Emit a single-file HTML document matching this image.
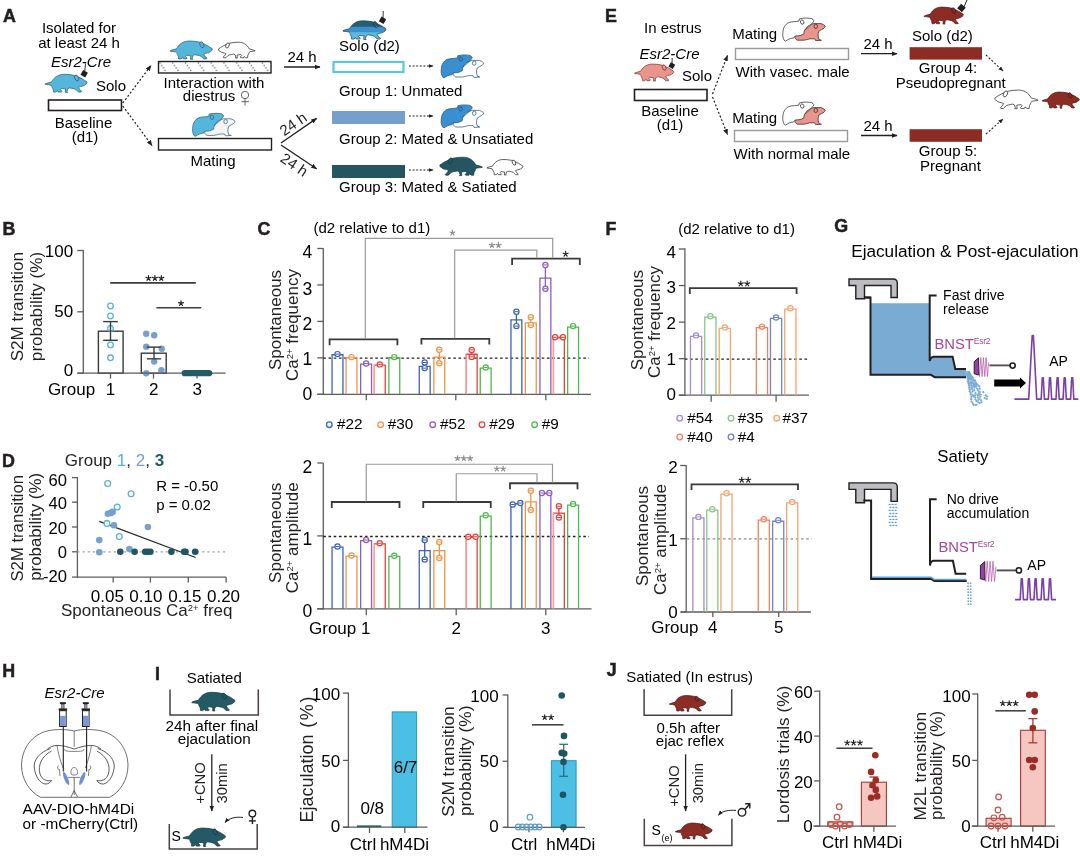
<!DOCTYPE html>
<html><head><meta charset="utf-8"><style>
html,body{margin:0;padding:0;background:#fff;}
svg{display:block;will-change:transform;}
text{font-family:"Liberation Sans", sans-serif;}
</style></head><body>
<svg width="1080" height="856" viewBox="0 0 1080 856">
<rect width="1080" height="856" fill="#fff"/>
<defs>
<g id="mouse">
<path d="M0.5,27.5 C5,25.5 10,24.5 15,23.4 C19,17 23,12 28,9.5 C33,6.6 38,5.4 44,5.2 C52,5.1 60,6 67.7,7.6 C75,10 81,13 86.6,15.9 C91,18.5 95,21 98.2,23.4 C98,25.5 97.5,27 96,28.6 L93.5,29.5 L92,31.5 L90.9,31.8 C88,32.8 85,33.5 82.5,33.9 L78,36 L82,42 L86,45.2 L84.5,46.8 L78.2,46.8 L72,40.5 L67.7,39 C64,38.2 60,37.5 57.3,37 L53.5,39 L51.5,45.5 L53,47.6 L47.5,47.6 L48.2,39.5 C45,39 41.5,38.6 38.2,38.2 L36,41 L39.8,44.8 L38.5,46.8 L31,46.8 L29.5,43.5 L25,46.8 L20,46.8 L19.3,40.2 C17.5,38 16.5,36 16.1,33.9 C15.5,32.5 15,31.5 14,30.7 C10,29.8 5,29.2 0.5,29 Z"/>
<ellipse cx="74" cy="13.9" rx="4.3" ry="7.3" transform="rotate(-25 74 13.9)"/>
</g>
<g id="pair">
<path fill="currentColor" d="M12.5,18.9 C13,17.5 14,17 15,17.2 C19,15.5 23,12 27,8.5 C28.5,7 30,6 31.7,5.8 L38.9,5.8 C40.5,6.3 42,7.2 43.1,8.3 C42.8,9.3 42.3,10 41.7,10.5 C40,11.5 38,12.5 36.7,13.3 C36,15 35.8,16.8 35.9,18.3 L36.7,21.6 L39.2,22.5 L33.4,22.8 L32.5,21 C30.5,21 29,21 27.2,21.1 C25,21.8 23.5,22.2 21.7,22.4 L15,22.4 C13.5,21.5 12.8,20.5 12.5,18.9 Z"/>
<ellipse fill="currentColor" cx="33.6" cy="8.6" rx="1.8" ry="2.1"/>
<path d="M2,22.5 C0.8,20 0.3,18 0.6,15.5 C0.8,12.5 1.2,10.5 2.2,8.9 C3.4,7 4.6,5.8 6.1,5 C8,4.2 10,3.9 12.2,3.9 C14,3.7 15.5,3.5 16.7,3.3 C16.9,2.5 17,1.7 17.2,1.1 C19.5,0.5 21.5,0.3 23.9,0.3 C26,0.3 28,0.5 29.5,0.8 C30.5,1.4 31.3,2.2 31.7,3 C31,4.2 30.3,5.2 29.5,6.1 C28,7 26.5,8 25,8.9 C24,10.2 23,11.5 22.2,12.8 C21.8,14 21.6,15 21.7,16.1 C20.5,16.8 19,17.4 17.8,17.8 C16,18 14.5,18.2 12.8,18.3 C12.3,19 11.9,19.5 11.7,20 C10,20.4 8.5,20.7 7.2,21.1 C5.8,21.8 4.6,22.5 3.4,23.3 Z"/>
<ellipse cx="20" cy="4.3" rx="1.7" ry="2.2" transform="rotate(-20 20 4.3)"/>
</g>
<linearGradient id="solograd" gradientUnits="userSpaceOnUse" x1="0" y1="5" x2="0" y2="48">
<stop offset="0" stop-color="#245f6e"/><stop offset="0.3" stop-color="#245f6e"/>
<stop offset="0.33" stop-color="#3a8fd0"/><stop offset="0.6" stop-color="#3a8fd0"/>
<stop offset="0.63" stop-color="#5ab9df"/><stop offset="1" stop-color="#5ab9df"/>
</linearGradient>
<pattern id="hatch" x="158.5" y="61.5" width="12.8" height="11.5" patternUnits="userSpaceOnUse">
<path d="M1.2,1.2 L7.8,10.5" stroke="#222" stroke-width="1.2" stroke-dasharray="1.0,2.0"/>
</pattern>
<marker id="ah" viewBox="0 0 10 10" refX="9" refY="5" markerWidth="6" markerHeight="6" orient="auto-start-reverse" markerUnits="userSpaceOnUse">
<path d="M0,1 L10,5 L0,9 Z" fill="#231f20"/></marker>
<marker id="ahs" viewBox="0 0 10 10" refX="9" refY="5" markerWidth="5" markerHeight="5" orient="auto-start-reverse" markerUnits="userSpaceOnUse">
<path d="M0,1 L10,5 L0,9 Z" fill="#231f20"/></marker>
</defs>
<text transform="translate(3.0,22.0) scale(0.93,1)" font-size="19.2" font-weight="bold" fill="#231f20" stroke="#231f20" stroke-width="0.55">A</text>
<text x="79.0" y="33.0" font-size="15" text-anchor="middle" >Isolated for</text>
<text x="79.0" y="47.5" font-size="15" text-anchor="middle" >at least 24 h</text>
<text x="81.0" y="67.0" font-size="15" text-anchor="middle" font-style="italic" >Esr2-Cre</text>
<use href="#mouse" transform="translate(45.00,72.06) scale(0.4280,0.4280)" fill="#55b6dc" stroke="#2a5a70" stroke-width="1.636"/>
<line x1="85.50" y1="63.50" x2="84.80" y2="71.00" stroke="#231f20" stroke-width="0.9" />
<rect x="81.5" y="71" width="5.4" height="5.4" fill="#231f20" transform="rotate(30 84.2 73.7)"/>
<text x="96.0" y="90.6" font-size="15" >Solo</text>
<rect x="48.50" y="100.00" width="73.00" height="10.50" fill="#fff" stroke="#231f20" stroke-width="1.6" />
<text x="83.5" y="127.5" font-size="15" text-anchor="middle" >Baseline</text>
<text x="85.0" y="141.5" font-size="15" text-anchor="middle" >(d1)</text>
<line x1="122.80" y1="103.00" x2="151.00" y2="65.50" stroke="#231f20" stroke-width="1.2" stroke-dasharray="2,2" marker-end="url(#ah)"/>
<line x1="122.80" y1="106.00" x2="152.00" y2="145.50" stroke="#231f20" stroke-width="1.2" stroke-dasharray="2,2" marker-end="url(#ah)"/>
<use href="#mouse" transform="translate(170.00,38.75) scale(0.4310,0.4310)" fill="#55b6dc" stroke="#2a5a70" stroke-width="1.624"/>
<use href="#mouse" transform="translate(255.00,40.30) scale(-0.3720,0.3720)" fill="#fff" stroke="#231f20" stroke-width="1.882"/>
<rect x="158.50" y="61.50" width="112.50" height="11.50" fill="url(#hatch)" stroke="#231f20" stroke-width="1.4" />
<text x="214.0" y="88.0" font-size="15" text-anchor="middle" >Interaction with</text>
<text x="182.8" y="101.1" font-size="15" >diestrus</text>
<circle cx="245.00" cy="95.00" r="3.7" fill="none" stroke="#555" stroke-width="0.9" />
<line x1="245.00" y1="98.70" x2="245.00" y2="105.50" stroke="#555" stroke-width="0.9" />
<line x1="241.40" y1="101.70" x2="248.90" y2="101.70" stroke="#555" stroke-width="0.9" />
<use href="#pair" transform="translate(192.00,113.00) scale(1.0000,1.0000)" fill="#55b6dc" stroke="#2a5a70" stroke-width="0.700" color="#f4f4f4"/>
<rect x="158.50" y="138.50" width="113.00" height="11.50" fill="#fff" stroke="#231f20" stroke-width="1.4" />
<text x="213.0" y="166.0" font-size="15" text-anchor="middle" >Mating</text>
<line x1="284.00" y1="67.00" x2="320.00" y2="67.00" stroke="#231f20" stroke-width="1.3" marker-end="url(#ah)"/>
<text x="287.5" y="62.0" font-size="15" >24 h</text>
<line x1="281.00" y1="143.00" x2="316.60" y2="118.40" stroke="#231f20" stroke-width="1.3" marker-end="url(#ah)"/>
<line x1="281.00" y1="145.00" x2="316.60" y2="168.80" stroke="#231f20" stroke-width="1.3" marker-end="url(#ah)"/>
<text transform="translate(284.2,136.6) rotate(-35)" font-size="15" fill="#231f20">24 h</text>
<text transform="translate(279.3,160.8) rotate(34)" font-size="15" fill="#231f20">24 h</text>
<use href="#mouse" transform="translate(342.80,18.50) scale(0.4400,0.4400)" fill="url(#solograd)" stroke="#1d3f4a" stroke-width="1.591"/>
<line x1="383.30" y1="11.00" x2="383.00" y2="18.00" stroke="#231f20" stroke-width="0.9" />
<rect x="379.8" y="17.5" width="5.4" height="5.4" fill="#231f20" transform="rotate(30 382.5 20.2)"/>
<text x="339.0" y="51.0" font-size="15" >Solo (d2)</text>
<rect x="333.50" y="62.00" width="70.00" height="10.00" fill="#fff" stroke="#5cc4e4" stroke-width="2.2" />
<rect x="332.00" y="111.00" width="73.00" height="13.00" fill="#74a0cb" stroke="none" stroke-width="1" />
<rect x="332.00" y="165.00" width="73.00" height="13.00" fill="#245662" stroke="none" stroke-width="1" />
<text x="339.0" y="96.0" font-size="15" >Group 1: Unmated</text>
<text x="339.0" y="144.0" font-size="15" >Group 2: Mated &amp; Unsatiated</text>
<text x="339.0" y="192.0" font-size="15" >Group 3: Mated &amp; Satiated</text>
<line x1="409.00" y1="66.00" x2="433.00" y2="66.00" stroke="#231f20" stroke-width="1.1" stroke-dasharray="2,1.6" marker-end="url(#ahs)"/>
<line x1="409.00" y1="116.00" x2="433.00" y2="116.00" stroke="#231f20" stroke-width="1.1" stroke-dasharray="2,1.6" marker-end="url(#ahs)"/>
<line x1="409.00" y1="170.00" x2="433.00" y2="170.00" stroke="#231f20" stroke-width="1.1" stroke-dasharray="2,1.6" marker-end="url(#ahs)"/>
<use href="#pair" transform="translate(440.60,54.60) scale(1.0000,1.0000)" fill="#3a8fd0" stroke="#1e4f73" stroke-width="0.700" color="#fff"/>
<use href="#pair" transform="translate(440.60,104.60) scale(1.0000,1.0000)" fill="#3a8fd0" stroke="#1e4f73" stroke-width="0.700" color="#fff"/>
<use href="#mouse" transform="translate(482.40,154.90) scale(-0.4340,0.4340)" fill="#245662" stroke="#163840" stroke-width="1.613"/>
<use href="#mouse" transform="translate(487.00,157.60) scale(0.3650,0.3650)" fill="#fff" stroke="#231f20" stroke-width="1.918"/>
<text transform="translate(605.0,22.0) scale(0.93,1)" font-size="19.2" font-weight="bold" fill="#231f20" stroke="#231f20" stroke-width="0.55">E</text>
<text x="644.0" y="33.0" font-size="15" >In estrus</text>
<text x="639.5" y="59.0" font-size="15" font-style="italic" >Esr2-Cre</text>
<use href="#mouse" transform="translate(634.50,62.00) scale(0.4000,0.4000)" fill="#e9958b" stroke="#7a3028" stroke-width="1.750"/>
<line x1="672.20" y1="58.00" x2="672.00" y2="64.00" stroke="#231f20" stroke-width="0.9" />
<rect x="669.3" y="63.2" width="5" height="5" fill="#231f20" transform="rotate(30 671.8 65.7)"/>
<text x="682.0" y="80.5" font-size="15" >Solo</text>
<rect x="634.50" y="89.50" width="72.50" height="11.00" fill="#fff" stroke="#231f20" stroke-width="1.6" />
<text x="670.0" y="116.0" font-size="15" text-anchor="middle" >Baseline</text>
<text x="670.0" y="130.0" font-size="15" text-anchor="middle" >(d1)</text>
<line x1="712.50" y1="94.00" x2="727.50" y2="55.50" stroke="#231f20" stroke-width="1.2" stroke-dasharray="2,2" marker-end="url(#ah)"/>
<line x1="712.50" y1="97.00" x2="727.50" y2="134.50" stroke="#231f20" stroke-width="1.2" stroke-dasharray="2,2" marker-end="url(#ah)"/>
<text x="732.2" y="38.8" font-size="15" >Mating</text>
<text x="732.2" y="123.3" font-size="15" >Mating</text>
<use href="#pair" transform="translate(782.20,17.80) scale(1.0000,1.0000)" fill="#fff" stroke="#231f20" stroke-width="0.700" color="#e9958b"/>
<use href="#pair" transform="translate(782.20,101.80) scale(1.0000,1.0000)" fill="#fff" stroke="#231f20" stroke-width="0.700" color="#e9958b"/>
<rect x="735.50" y="48.50" width="113.00" height="11.00" fill="#fff" stroke="#9a9a9a" stroke-width="1.4" />
<rect x="734.50" y="130.50" width="113.00" height="11.00" fill="#fff" stroke="#9a9a9a" stroke-width="1.4" />
<text x="735.5" y="76.5" font-size="15" >With vasec. male</text>
<text x="733.5" y="158.5" font-size="15" >With normal male</text>
<line x1="861.00" y1="53.70" x2="897.00" y2="53.70" stroke="#231f20" stroke-width="1.3" marker-end="url(#ah)"/>
<line x1="861.00" y1="135.50" x2="897.00" y2="135.50" stroke="#231f20" stroke-width="1.3" marker-end="url(#ah)"/>
<text x="863.4" y="49.3" font-size="15" >24 h</text>
<text x="863.4" y="131.2" font-size="15" >24 h</text>
<use href="#mouse" transform="translate(924.00,5.00) scale(0.4000,0.4000)" fill="#8b2d25" stroke="#4a1510" stroke-width="1.750"/>
<line x1="967.00" y1="0.00" x2="964.00" y2="7.00" stroke="#231f20" stroke-width="1" />
<rect x="958.5" y="5" width="6" height="6" fill="#231f20" transform="rotate(40 961.5 8)"/>
<text x="912.0" y="40.5" font-size="15" >Solo (d2)</text>
<rect x="909.60" y="47.20" width="72.40" height="12.40" fill="#8b2d25" stroke="none" stroke-width="1" />
<rect x="909.60" y="129.20" width="72.40" height="12.60" fill="#8b2d25" stroke="none" stroke-width="1" />
<text x="948.0" y="73.3" font-size="15" text-anchor="middle" >Group 4:</text>
<text x="950.7" y="88.0" font-size="15" text-anchor="middle" >Pseudopregnant</text>
<text x="948.0" y="155.6" font-size="15" text-anchor="middle" >Group 5:</text>
<text x="950.4" y="171.3" font-size="15" text-anchor="middle" >Pregnant</text>
<line x1="986.00" y1="55.00" x2="1003.00" y2="71.00" stroke="#231f20" stroke-width="1.1" stroke-dasharray="2,1.8" marker-end="url(#ahs)"/>
<line x1="986.00" y1="134.00" x2="1003.00" y2="119.00" stroke="#231f20" stroke-width="1.1" stroke-dasharray="2,1.8" marker-end="url(#ahs)"/>
<use href="#mouse" transform="translate(1038.00,87.80) scale(-0.4400,0.4400)" fill="#fff" stroke="#231f20" stroke-width="1.591"/>
<use href="#mouse" transform="translate(1042.00,90.10) scale(0.3800,0.3800)" fill="#8b2d25" stroke="#4a1510" stroke-width="1.842"/>
<text transform="translate(2.5,235.0) scale(0.93,1)" font-size="19.2" font-weight="bold" fill="#231f20" stroke="#231f20" stroke-width="0.55">B</text>
<line x1="83.30" y1="249.90" x2="83.30" y2="373.80" stroke="#5c5c5c" stroke-width="1.3" />
<line x1="77.30" y1="250.50" x2="83.30" y2="250.50" stroke="#5c5c5c" stroke-width="1.3" />
<text x="73.1" y="257.2" font-size="17" text-anchor="end" >100</text>
<line x1="77.30" y1="311.80" x2="83.30" y2="311.80" stroke="#5c5c5c" stroke-width="1.3" />
<text x="73.1" y="316.7" font-size="17" text-anchor="end" >50</text>
<line x1="77.30" y1="373.20" x2="83.30" y2="373.20" stroke="#5c5c5c" stroke-width="1.3" />
<text x="73.1" y="375.5" font-size="17" text-anchor="end" >0</text>
<rect x="98.40" y="331.20" width="24.70" height="42.00" fill="#fff" stroke="#3a3a3a" stroke-width="1.4" />
<rect x="141.30" y="353.20" width="24.90" height="20.00" fill="#fff" stroke="#3a3a3a" stroke-width="1.4" />
<circle cx="110.50" cy="306.00" r="2.8" fill="none" stroke="#5ab2d6" stroke-width="1.3" />
<circle cx="110.50" cy="316.00" r="2.8" fill="none" stroke="#5ab2d6" stroke-width="1.3" />
<circle cx="110.50" cy="328.50" r="2.8" fill="none" stroke="#5ab2d6" stroke-width="1.3" />
<circle cx="110.50" cy="344.90" r="2.8" fill="none" stroke="#5ab2d6" stroke-width="1.3" />
<circle cx="110.50" cy="357.80" r="2.8" fill="none" stroke="#5ab2d6" stroke-width="1.3" />
<line x1="110.50" y1="321.60" x2="110.50" y2="340.30" stroke="#3a3a3a" stroke-width="1.4" />
<line x1="103.15" y1="321.60" x2="117.85" y2="321.60" stroke="#3a3a3a" stroke-width="1.4" />
<line x1="103.15" y1="340.30" x2="117.85" y2="340.30" stroke="#3a3a3a" stroke-width="1.4" />
<circle cx="146.20" cy="333.80" r="3.2" fill="#77a0cd" stroke="none" stroke-width="1" />
<circle cx="154.20" cy="335.30" r="3.2" fill="#77a0cd" stroke="none" stroke-width="1" />
<circle cx="146.20" cy="346.70" r="3.2" fill="#77a0cd" stroke="none" stroke-width="1" />
<circle cx="161.70" cy="348.70" r="3.2" fill="#77a0cd" stroke="none" stroke-width="1" />
<circle cx="154.20" cy="361.60" r="3.2" fill="#77a0cd" stroke="none" stroke-width="1" />
<circle cx="146.20" cy="373.20" r="3.2" fill="#77a0cd" stroke="none" stroke-width="1" />
<circle cx="161.40" cy="370.20" r="3.2" fill="#77a0cd" stroke="none" stroke-width="1" />
<line x1="154.00" y1="347.10" x2="154.00" y2="358.80" stroke="#3a3a3a" stroke-width="1.4" />
<line x1="146.90" y1="347.10" x2="161.10" y2="347.10" stroke="#3a3a3a" stroke-width="1.4" />
<line x1="146.90" y1="358.80" x2="161.10" y2="358.80" stroke="#3a3a3a" stroke-width="1.4" />
<line x1="77.40" y1="373.20" x2="225.60" y2="373.20" stroke="#5c5c5c" stroke-width="1.3" />
<line x1="110.50" y1="373.20" x2="110.50" y2="378.60" stroke="#5c5c5c" stroke-width="1.3" />
<line x1="153.50" y1="373.20" x2="153.50" y2="378.60" stroke="#5c5c5c" stroke-width="1.3" />
<line x1="197.00" y1="373.20" x2="197.00" y2="378.60" stroke="#5c5c5c" stroke-width="1.3" />
<rect x="181.6" y="370.1" width="30.6" height="6.2" rx="3.1" fill="#245a66"/>
<line x1="110.20" y1="282.90" x2="195.80" y2="282.90" stroke="#3a3a3a" stroke-width="1.6" />
<line x1="156.40" y1="307.70" x2="201.30" y2="307.70" stroke="#3a3a3a" stroke-width="1.6" />
<path d="M148.50,278.20 L148.50,275.60 M148.50,278.20 L150.97,277.40 M148.50,278.20 L150.03,280.30 M148.50,278.20 L146.97,280.30 M148.50,278.20 L146.03,277.40 M154.90,278.20 L154.90,275.60 M154.90,278.20 L157.37,277.40 M154.90,278.20 L156.43,280.30 M154.90,278.20 L153.37,280.30 M154.90,278.20 L152.43,277.40 M161.30,278.20 L161.30,275.60 M161.30,278.20 L163.77,277.40 M161.30,278.20 L162.83,280.30 M161.30,278.20 L159.77,280.30 M161.30,278.20 L158.83,277.40 " fill="none" stroke="#231f20" stroke-width="1.15" stroke-linecap="round"/>
<path d="M181.00,303.40 L181.00,300.80 M181.00,303.40 L183.47,302.60 M181.00,303.40 L182.53,305.50 M181.00,303.40 L179.47,305.50 M181.00,303.40 L178.53,302.60 " fill="none" stroke="#231f20" stroke-width="1.15" stroke-linecap="round"/>
<text x="47.9" y="394.6" font-size="17" >Group</text>
<text x="110.5" y="394.8" font-size="17" text-anchor="middle" >1</text>
<text x="153.8" y="394.8" font-size="17" text-anchor="middle" >2</text>
<text x="197.3" y="394.8" font-size="17" text-anchor="middle" >3</text>
<text transform="translate(23.4,306.7) rotate(-90)" x="0" y="0" font-size="17.1" text-anchor="middle" fill="#231f20">S2M transition</text>
<text transform="translate(41.7,306.5) rotate(-90)" x="0" y="0" font-size="17.1" text-anchor="middle" fill="#231f20">probability (%)</text>
<text transform="translate(2.0,467.0) scale(0.93,1)" font-size="19.2" font-weight="bold" fill="#231f20" stroke="#231f20" stroke-width="0.55">D</text>
<text x="64.8" y="466" font-size="17" fill="#231f20">Group <tspan fill="#5ab2d6">1</tspan>, <tspan fill="#77a0cd">2</tspan>, <tspan fill="#245a66" font-weight="bold">3</tspan></text>
<line x1="77.40" y1="477.00" x2="77.40" y2="577.70" stroke="#5c5c5c" stroke-width="1.3" />
<line x1="72.00" y1="477.60" x2="77.40" y2="477.60" stroke="#5c5c5c" stroke-width="1.3" />
<text x="67.0" y="485.7" font-size="16.6" text-anchor="end" >60</text>
<line x1="72.00" y1="502.20" x2="77.40" y2="502.20" stroke="#5c5c5c" stroke-width="1.3" />
<text x="67.0" y="509.0" font-size="16.6" text-anchor="end" >40</text>
<line x1="72.00" y1="527.00" x2="77.40" y2="527.00" stroke="#5c5c5c" stroke-width="1.3" />
<text x="67.0" y="533.5" font-size="16.6" text-anchor="end" >20</text>
<line x1="72.00" y1="551.80" x2="77.40" y2="551.80" stroke="#5c5c5c" stroke-width="1.3" />
<text x="67.0" y="557.6" font-size="16.6" text-anchor="end" >0</text>
<line x1="72.00" y1="577.10" x2="77.40" y2="577.10" stroke="#5c5c5c" stroke-width="1.3" />
<text x="67.0" y="582.4" font-size="16.6" text-anchor="end" >-20</text>
<line x1="77.40" y1="577.10" x2="226.10" y2="577.10" stroke="#5c5c5c" stroke-width="1.3" />
<line x1="113.20" y1="577.10" x2="113.20" y2="582.60" stroke="#5c5c5c" stroke-width="1.3" />
<line x1="150.40" y1="577.10" x2="150.40" y2="582.60" stroke="#5c5c5c" stroke-width="1.3" />
<line x1="188.30" y1="577.10" x2="188.30" y2="582.60" stroke="#5c5c5c" stroke-width="1.3" />
<line x1="226.10" y1="577.10" x2="226.10" y2="582.60" stroke="#5c5c5c" stroke-width="1.3" />
<text x="107.3" y="601.7" font-size="17" text-anchor="middle" >0.05</text>
<text x="145.8" y="601.7" font-size="17" text-anchor="middle" >0.10</text>
<text x="184.8" y="601.7" font-size="17" text-anchor="middle" >0.15</text>
<text x="223.5" y="601.7" font-size="17" text-anchor="middle" >0.20</text>
<text x="61" y="616.4" font-size="17" fill="#231f20">Spontaneous Ca<tspan font-size="9.5" dy="-5">2+</tspan><tspan dy="5"> freq</tspan></text>
<text x="156.2" y="490.8" font-size="15" >R = -0.50</text>
<text x="156.2" y="509.8" font-size="15" >p = 0.02</text>
<line x1="77.40" y1="551.80" x2="226.00" y2="551.80" stroke="#9a9a9a" stroke-width="1.2" stroke-dasharray="2,3.2"/>
<line x1="99.30" y1="521.30" x2="195.60" y2="557.50" stroke="#2a2a2a" stroke-width="1.3" />
<circle cx="107.90" cy="513.80" r="3.3" fill="#77a0cd" stroke="none" stroke-width="1" />
<circle cx="112.60" cy="511.90" r="3.3" fill="#77a0cd" stroke="none" stroke-width="1" />
<circle cx="111.00" cy="512.90" r="3.3" fill="#77a0cd" stroke="none" stroke-width="1" />
<circle cx="114.00" cy="525.30" r="3.3" fill="#77a0cd" stroke="none" stroke-width="1" />
<circle cx="99.30" cy="540.10" r="3.3" fill="#77a0cd" stroke="none" stroke-width="1" />
<circle cx="99.30" cy="552.20" r="3.3" fill="#77a0cd" stroke="none" stroke-width="1" />
<circle cx="129.40" cy="549.10" r="3.3" fill="#77a0cd" stroke="none" stroke-width="1" />
<circle cx="147.90" cy="527.00" r="3.3" fill="#77a0cd" stroke="none" stroke-width="1" />
<circle cx="107.70" cy="483.50" r="2.9" fill="#fff" stroke="#5ab2d6" stroke-width="1.3" />
<circle cx="131.10" cy="493.80" r="2.9" fill="#fff" stroke="#5ab2d6" stroke-width="1.3" />
<circle cx="117.20" cy="507.00" r="2.9" fill="#fff" stroke="#5ab2d6" stroke-width="1.3" />
<circle cx="106.90" cy="523.40" r="2.9" fill="#fff" stroke="#5ab2d6" stroke-width="1.3" />
<circle cx="119.30" cy="536.50" r="2.9" fill="#fff" stroke="#5ab2d6" stroke-width="1.3" />
<circle cx="120.30" cy="551.80" r="3.3" fill="#1f5661" stroke="none" stroke-width="1" />
<circle cx="134.60" cy="551.80" r="3.3" fill="#1f5661" stroke="none" stroke-width="1" />
<circle cx="145.20" cy="551.80" r="3.3" fill="#1f5661" stroke="none" stroke-width="1" />
<circle cx="147.70" cy="551.80" r="3.3" fill="#1f5661" stroke="none" stroke-width="1" />
<circle cx="150.40" cy="551.80" r="3.3" fill="#1f5661" stroke="none" stroke-width="1" />
<circle cx="171.40" cy="551.80" r="3.3" fill="#1f5661" stroke="none" stroke-width="1" />
<circle cx="184.10" cy="551.80" r="3.3" fill="#1f5661" stroke="none" stroke-width="1" />
<circle cx="185.50" cy="551.80" r="3.3" fill="#1f5661" stroke="none" stroke-width="1" />
<circle cx="195.20" cy="551.80" r="3.3" fill="#1f5661" stroke="none" stroke-width="1" />
<text transform="translate(23.3,528.2) rotate(-90)" x="0" y="0" font-size="16.7" text-anchor="middle" fill="#231f20">S2M transition</text>
<text transform="translate(40.6,526.9) rotate(-90)" x="0" y="0" font-size="16.9" text-anchor="middle" fill="#231f20">probability (%)</text>
<text transform="translate(257.5,235.3) scale(0.93,1)" font-size="19.2" font-weight="bold" fill="#231f20" stroke="#231f20" stroke-width="0.55">C</text>
<text x="313.5" y="233.3" font-size="15" >(d2 relative to d1)</text>
<line x1="323.30" y1="248.20" x2="323.30" y2="394.90" stroke="#5c5c5c" stroke-width="1.3" />
<line x1="317.30" y1="248.50" x2="323.30" y2="248.50" stroke="#5c5c5c" stroke-width="1.3" />
<text x="312.3" y="257.7" font-size="17.5" text-anchor="end" >4</text>
<line x1="317.30" y1="284.95" x2="323.30" y2="284.95" stroke="#5c5c5c" stroke-width="1.3" />
<text x="312.3" y="294.6" font-size="17.5" text-anchor="end" >3</text>
<line x1="317.30" y1="321.40" x2="323.30" y2="321.40" stroke="#5c5c5c" stroke-width="1.3" />
<text x="312.3" y="330.1" font-size="17.5" text-anchor="end" >2</text>
<line x1="317.30" y1="357.85" x2="323.30" y2="357.85" stroke="#5c5c5c" stroke-width="1.3" />
<text x="312.3" y="364.7" font-size="17.5" text-anchor="end" >1</text>
<line x1="317.30" y1="394.30" x2="323.30" y2="394.30" stroke="#5c5c5c" stroke-width="1.3" />
<text x="312.3" y="400.2" font-size="17.5" text-anchor="end" >0</text>
<line x1="323.30" y1="358.10" x2="589.00" y2="358.10" stroke="#231f20" stroke-width="1.3" stroke-dasharray="2.6,2.6"/>
<line x1="317.30" y1="394.30" x2="591.00" y2="394.30" stroke="#5c5c5c" stroke-width="1.3" />
<line x1="366.30" y1="394.30" x2="366.30" y2="400.30" stroke="#5c5c5c" stroke-width="1.3" />
<line x1="455.80" y1="394.30" x2="455.80" y2="400.30" stroke="#5c5c5c" stroke-width="1.3" />
<line x1="545.80" y1="394.30" x2="545.80" y2="400.30" stroke="#5c5c5c" stroke-width="1.3" />
<path d="M332.05,394.30 V354.75 H342.95 V394.30" fill="none" stroke="#3b63b6" stroke-width="1.3" />
<circle cx="337.50" cy="354.10" r="2.6" fill="#fff" stroke="#3b63b6" stroke-width="1.2" />
<line x1="335.50" y1="354.10" x2="339.50" y2="354.10" stroke="#3b63b6" stroke-width="1.0" />
<path d="M346.05,394.30 V357.75 H356.95 V394.30" fill="none" stroke="#f39445" stroke-width="1.3" />
<circle cx="351.50" cy="357.10" r="2.6" fill="#fff" stroke="#f39445" stroke-width="1.2" />
<line x1="349.50" y1="357.10" x2="353.50" y2="357.10" stroke="#f39445" stroke-width="1.0" />
<path d="M360.65,394.30 V364.15 H371.55 V394.30" fill="none" stroke="#8d5eb7" stroke-width="1.3" />
<circle cx="366.10" cy="363.50" r="2.6" fill="#fff" stroke="#8d5eb7" stroke-width="1.2" />
<line x1="364.10" y1="363.50" x2="368.10" y2="363.50" stroke="#8d5eb7" stroke-width="1.0" />
<path d="M374.35,394.30 V365.05 H385.25 V394.30" fill="none" stroke="#e8413b" stroke-width="1.3" />
<line x1="374.35" y1="365.05" x2="374.35" y2="394.30" stroke="#f6a59d" stroke-width="1.3" />
<circle cx="379.80" cy="364.40" r="2.6" fill="#fff" stroke="#e8413b" stroke-width="1.2" />
<line x1="377.80" y1="364.40" x2="381.80" y2="364.40" stroke="#e8413b" stroke-width="1.0" />
<path d="M388.85,394.30 V357.75 H399.75 V394.30" fill="none" stroke="#4fb84b" stroke-width="1.3" />
<circle cx="394.30" cy="357.10" r="2.6" fill="#fff" stroke="#4fb84b" stroke-width="1.2" />
<line x1="392.30" y1="357.10" x2="396.30" y2="357.10" stroke="#4fb84b" stroke-width="1.0" />
<path d="M419.25,394.30 V366.45 H430.15 V394.30" fill="none" stroke="#3b63b6" stroke-width="1.3" />
<line x1="424.70" y1="362.50" x2="424.70" y2="368.10" stroke="#3b63b6" stroke-width="1.3" />
<circle cx="424.70" cy="362.50" r="2.6" fill="#fff" stroke="#3b63b6" stroke-width="1.2" />
<line x1="422.70" y1="362.50" x2="426.70" y2="362.50" stroke="#3b63b6" stroke-width="1.0" />
<circle cx="424.70" cy="368.10" r="2.6" fill="#fff" stroke="#3b63b6" stroke-width="1.2" />
<line x1="422.70" y1="368.10" x2="426.70" y2="368.10" stroke="#3b63b6" stroke-width="1.0" />
<path d="M433.85,394.30 V357.05 H444.75 V394.30" fill="none" stroke="#f39445" stroke-width="1.3" />
<line x1="439.30" y1="349.70" x2="439.30" y2="363.20" stroke="#f39445" stroke-width="1.3" />
<circle cx="439.30" cy="349.70" r="2.6" fill="#fff" stroke="#f39445" stroke-width="1.2" />
<line x1="437.30" y1="349.70" x2="441.30" y2="349.70" stroke="#f39445" stroke-width="1.0" />
<circle cx="439.30" cy="363.20" r="2.6" fill="#fff" stroke="#f39445" stroke-width="1.2" />
<line x1="437.30" y1="363.20" x2="441.30" y2="363.20" stroke="#f39445" stroke-width="1.0" />
<path d="M466.25,394.30 V354.25 H477.15 V394.30" fill="none" stroke="#e8413b" stroke-width="1.3" />
<line x1="466.25" y1="354.25" x2="466.25" y2="394.30" stroke="#f6a59d" stroke-width="1.3" />
<line x1="471.70" y1="349.90" x2="471.70" y2="356.90" stroke="#e8413b" stroke-width="1.3" />
<circle cx="471.70" cy="349.90" r="2.6" fill="#fff" stroke="#e8413b" stroke-width="1.2" />
<line x1="469.70" y1="349.90" x2="473.70" y2="349.90" stroke="#e8413b" stroke-width="1.0" />
<circle cx="471.70" cy="356.90" r="2.6" fill="#fff" stroke="#e8413b" stroke-width="1.2" />
<line x1="469.70" y1="356.90" x2="473.70" y2="356.90" stroke="#e8413b" stroke-width="1.0" />
<path d="M480.25,394.30 V368.15 H491.15 V394.30" fill="none" stroke="#4fb84b" stroke-width="1.3" />
<circle cx="485.70" cy="367.50" r="2.6" fill="#fff" stroke="#4fb84b" stroke-width="1.2" />
<line x1="483.70" y1="367.50" x2="487.70" y2="367.50" stroke="#4fb84b" stroke-width="1.0" />
<path d="M510.95,394.30 V319.85 H521.85 V394.30" fill="none" stroke="#3b63b6" stroke-width="1.3" />
<line x1="516.40" y1="311.70" x2="516.40" y2="326.10" stroke="#3b63b6" stroke-width="1.3" />
<circle cx="516.40" cy="311.70" r="2.6" fill="#fff" stroke="#3b63b6" stroke-width="1.2" />
<line x1="514.40" y1="311.70" x2="518.40" y2="311.70" stroke="#3b63b6" stroke-width="1.0" />
<circle cx="516.40" cy="326.10" r="2.6" fill="#fff" stroke="#3b63b6" stroke-width="1.2" />
<line x1="514.40" y1="326.10" x2="518.40" y2="326.10" stroke="#3b63b6" stroke-width="1.0" />
<path d="M525.35,394.30 V322.95 H536.25 V394.30" fill="none" stroke="#f39445" stroke-width="1.3" />
<line x1="530.80" y1="317.30" x2="530.80" y2="325.10" stroke="#f39445" stroke-width="1.3" />
<circle cx="530.80" cy="317.30" r="2.6" fill="#fff" stroke="#f39445" stroke-width="1.2" />
<line x1="528.80" y1="317.30" x2="532.80" y2="317.30" stroke="#f39445" stroke-width="1.0" />
<circle cx="530.80" cy="325.10" r="2.6" fill="#fff" stroke="#f39445" stroke-width="1.2" />
<line x1="528.80" y1="325.10" x2="532.80" y2="325.10" stroke="#f39445" stroke-width="1.0" />
<path d="M539.95,394.30 V278.05 H550.85 V394.30" fill="none" stroke="#8d5eb7" stroke-width="1.3" />
<line x1="545.40" y1="264.90" x2="545.40" y2="288.70" stroke="#8d5eb7" stroke-width="1.3" />
<circle cx="545.40" cy="264.90" r="2.6" fill="#fff" stroke="#8d5eb7" stroke-width="1.2" />
<line x1="543.40" y1="264.90" x2="547.40" y2="264.90" stroke="#8d5eb7" stroke-width="1.0" />
<circle cx="545.40" cy="288.70" r="2.6" fill="#fff" stroke="#8d5eb7" stroke-width="1.2" />
<line x1="543.40" y1="288.70" x2="547.40" y2="288.70" stroke="#8d5eb7" stroke-width="1.0" />
<path d="M553.45,394.30 V337.95 H564.35 V394.30" fill="none" stroke="#e8413b" stroke-width="1.3" />
<line x1="553.45" y1="337.95" x2="553.45" y2="394.30" stroke="#f6a59d" stroke-width="1.3" />
<line x1="555.10" y1="337.30" x2="563.00" y2="337.30" stroke="#e8413b" stroke-width="1.3" />
<circle cx="555.10" cy="337.30" r="2.6" fill="#fff" stroke="#e8413b" stroke-width="1.2" />
<line x1="553.10" y1="337.30" x2="557.10" y2="337.30" stroke="#e8413b" stroke-width="1.0" />
<circle cx="563.00" cy="337.30" r="2.6" fill="#fff" stroke="#e8413b" stroke-width="1.2" />
<line x1="561.00" y1="337.30" x2="565.00" y2="337.30" stroke="#e8413b" stroke-width="1.0" />
<path d="M567.65,394.30 V327.15 H578.55 V394.30" fill="none" stroke="#4fb84b" stroke-width="1.3" />
<circle cx="573.10" cy="326.10" r="2.6" fill="#fff" stroke="#4fb84b" stroke-width="1.2" />
<line x1="571.10" y1="326.10" x2="575.10" y2="326.10" stroke="#4fb84b" stroke-width="1.0" />
<path d="M329.60,345.20 V339.40 H397.40 V345.20" fill="none" stroke="#3a3a3a" stroke-width="1.8" />
<path d="M421.40,344.60 V338.90 H489.30 V344.60" fill="none" stroke="#3a3a3a" stroke-width="1.8" />
<path d="M512.10,264.90 V258.60 H579.80 V264.90" fill="none" stroke="#3a3a3a" stroke-width="1.8" />
<path d="M365.3,338.6 V238.4 H552.7 V257.8" fill="none" stroke="#9a9a9a" stroke-width="1.2" />
<path d="M454.7,338.2 V250.2 H536.8 V257.8" fill="none" stroke="#9a9a9a" stroke-width="1.2" />
<path d="M452.40,232.80 L452.40,230.20 M452.40,232.80 L454.87,232.00 M452.40,232.80 L453.93,234.90 M452.40,232.80 L450.87,234.90 M452.40,232.80 L449.93,232.00 " fill="none" stroke="#8a8a8a" stroke-width="1.15" stroke-linecap="round"/>
<path d="M491.90,245.20 L491.90,242.60 M491.90,245.20 L494.37,244.40 M491.90,245.20 L493.43,247.30 M491.90,245.20 L490.37,247.30 M491.90,245.20 L489.43,244.40 M498.50,245.20 L498.50,242.60 M498.50,245.20 L500.97,244.40 M498.50,245.20 L500.03,247.30 M498.50,245.20 L496.97,247.30 M498.50,245.20 L496.03,244.40 " fill="none" stroke="#8a8a8a" stroke-width="1.15" stroke-linecap="round"/>
<path d="M565.60,254.00 L565.60,251.40 M565.60,254.00 L568.07,253.20 M565.60,254.00 L567.13,256.10 M565.60,254.00 L564.07,256.10 M565.60,254.00 L563.13,253.20 " fill="none" stroke="#231f20" stroke-width="1.15" stroke-linecap="round"/>
<text transform="translate(280.6,320.0) rotate(-90)" x="0" y="0" font-size="17" text-anchor="middle" fill="#231f20">Spontaneous</text>
<text transform="translate(297.8,325) rotate(-90)" font-size="17" text-anchor="middle" fill="#231f20">Ca<tspan font-size="9.5" dy="-5">2+</tspan><tspan dy="5"> frequency</tspan></text>
<circle cx="329.30" cy="424.70" r="2.8" fill="none" stroke="#3b63b6" stroke-width="1.3" />
<text x="336.9" y="429.3" font-size="15.3" >#22</text>
<circle cx="380.60" cy="424.70" r="2.8" fill="none" stroke="#f39445" stroke-width="1.3" />
<text x="387.8" y="429.3" font-size="15.3" >#30</text>
<circle cx="432.70" cy="424.70" r="2.8" fill="none" stroke="#8d5eb7" stroke-width="1.3" />
<text x="439.9" y="429.3" font-size="15.3" >#52</text>
<circle cx="482.00" cy="424.70" r="2.8" fill="none" stroke="#e8413b" stroke-width="1.3" />
<text x="489.2" y="429.3" font-size="15.3" >#29</text>
<circle cx="534.60" cy="424.70" r="2.8" fill="none" stroke="#4fb84b" stroke-width="1.3" />
<text x="541.7" y="429.3" font-size="15.3" >#9</text>
<line x1="323.30" y1="463.00" x2="323.30" y2="609.40" stroke="#5c5c5c" stroke-width="1.3" />
<line x1="317.30" y1="463.00" x2="323.30" y2="463.00" stroke="#5c5c5c" stroke-width="1.3" />
<text x="312.3" y="473.2" font-size="17.5" text-anchor="end" >2</text>
<line x1="317.30" y1="535.90" x2="323.30" y2="535.90" stroke="#5c5c5c" stroke-width="1.3" />
<text x="312.3" y="545.1" font-size="17.5" text-anchor="end" >1</text>
<line x1="317.30" y1="608.80" x2="323.30" y2="608.80" stroke="#5c5c5c" stroke-width="1.3" />
<text x="312.3" y="617.2" font-size="17.5" text-anchor="end" >0</text>
<line x1="323.30" y1="536.50" x2="589.00" y2="536.50" stroke="#231f20" stroke-width="1.3" stroke-dasharray="2.6,2.6"/>
<line x1="317.30" y1="608.80" x2="591.50" y2="608.80" stroke="#5c5c5c" stroke-width="1.3" />
<line x1="366.30" y1="608.80" x2="366.30" y2="615.30" stroke="#5c5c5c" stroke-width="1.3" />
<line x1="456.20" y1="608.80" x2="456.20" y2="615.30" stroke="#5c5c5c" stroke-width="1.3" />
<line x1="545.80" y1="608.80" x2="545.80" y2="615.30" stroke="#5c5c5c" stroke-width="1.3" />
<path d="M332.05,608.80 V547.15 H342.95 V608.80" fill="none" stroke="#3b63b6" stroke-width="1.3" />
<circle cx="337.50" cy="546.50" r="2.6" fill="#fff" stroke="#3b63b6" stroke-width="1.2" />
<line x1="335.50" y1="546.50" x2="339.50" y2="546.50" stroke="#3b63b6" stroke-width="1.0" />
<path d="M346.05,608.80 V556.15 H356.95 V608.80" fill="none" stroke="#f39445" stroke-width="1.3" />
<circle cx="351.50" cy="555.50" r="2.6" fill="#fff" stroke="#f39445" stroke-width="1.2" />
<line x1="349.50" y1="555.50" x2="353.50" y2="555.50" stroke="#f39445" stroke-width="1.0" />
<path d="M360.65,608.80 V540.65 H371.55 V608.80" fill="none" stroke="#8d5eb7" stroke-width="1.3" />
<circle cx="366.10" cy="540.00" r="2.6" fill="#fff" stroke="#8d5eb7" stroke-width="1.2" />
<line x1="364.10" y1="540.00" x2="368.10" y2="540.00" stroke="#8d5eb7" stroke-width="1.0" />
<path d="M374.35,608.80 V543.90 H385.25 V608.80" fill="none" stroke="#e8413b" stroke-width="1.3" />
<line x1="374.35" y1="543.90" x2="374.35" y2="608.80" stroke="#f6a59d" stroke-width="1.3" />
<circle cx="379.80" cy="543.25" r="2.6" fill="#fff" stroke="#e8413b" stroke-width="1.2" />
<line x1="377.80" y1="543.25" x2="381.80" y2="543.25" stroke="#e8413b" stroke-width="1.0" />
<path d="M388.85,608.80 V556.40 H399.75 V608.80" fill="none" stroke="#4fb84b" stroke-width="1.3" />
<circle cx="394.30" cy="555.75" r="2.6" fill="#fff" stroke="#4fb84b" stroke-width="1.2" />
<line x1="392.30" y1="555.75" x2="396.30" y2="555.75" stroke="#4fb84b" stroke-width="1.0" />
<path d="M419.25,608.80 V550.65 H430.15 V608.80" fill="none" stroke="#3b63b6" stroke-width="1.3" />
<line x1="424.70" y1="540.00" x2="424.70" y2="559.50" stroke="#3b63b6" stroke-width="1.3" />
<circle cx="424.70" cy="540.00" r="2.6" fill="#fff" stroke="#3b63b6" stroke-width="1.2" />
<line x1="422.70" y1="540.00" x2="426.70" y2="540.00" stroke="#3b63b6" stroke-width="1.0" />
<circle cx="424.70" cy="559.50" r="2.6" fill="#fff" stroke="#3b63b6" stroke-width="1.2" />
<line x1="422.70" y1="559.50" x2="426.70" y2="559.50" stroke="#3b63b6" stroke-width="1.0" />
<path d="M433.85,608.80 V550.65 H444.75 V608.80" fill="none" stroke="#f39445" stroke-width="1.3" />
<line x1="439.30" y1="542.00" x2="439.30" y2="558.00" stroke="#f39445" stroke-width="1.3" />
<circle cx="439.30" cy="542.00" r="2.6" fill="#fff" stroke="#f39445" stroke-width="1.2" />
<line x1="437.30" y1="542.00" x2="441.30" y2="542.00" stroke="#f39445" stroke-width="1.0" />
<circle cx="439.30" cy="558.00" r="2.6" fill="#fff" stroke="#f39445" stroke-width="1.2" />
<line x1="437.30" y1="558.00" x2="441.30" y2="558.00" stroke="#f39445" stroke-width="1.0" />
<path d="M466.25,608.80 V537.40 H477.15 V608.80" fill="none" stroke="#e8413b" stroke-width="1.3" />
<line x1="466.25" y1="537.40" x2="466.25" y2="608.80" stroke="#f6a59d" stroke-width="1.3" />
<line x1="468.20" y1="536.75" x2="475.60" y2="536.75" stroke="#e8413b" stroke-width="1.3" />
<circle cx="468.20" cy="536.75" r="2.6" fill="#fff" stroke="#e8413b" stroke-width="1.2" />
<line x1="466.20" y1="536.75" x2="470.20" y2="536.75" stroke="#e8413b" stroke-width="1.0" />
<circle cx="475.60" cy="536.75" r="2.6" fill="#fff" stroke="#e8413b" stroke-width="1.2" />
<line x1="473.60" y1="536.75" x2="477.60" y2="536.75" stroke="#e8413b" stroke-width="1.0" />
<path d="M480.25,608.80 V516.15 H491.15 V608.80" fill="none" stroke="#4fb84b" stroke-width="1.3" />
<circle cx="485.70" cy="515.30" r="2.6" fill="#fff" stroke="#4fb84b" stroke-width="1.2" />
<line x1="483.70" y1="515.30" x2="487.70" y2="515.30" stroke="#4fb84b" stroke-width="1.0" />
<path d="M510.95,608.80 V503.65 H521.85 V608.80" fill="none" stroke="#3b63b6" stroke-width="1.3" />
<line x1="512.70" y1="504.50" x2="520.30" y2="503.00" stroke="#3b63b6" stroke-width="1.3" />
<circle cx="512.70" cy="504.50" r="2.6" fill="#fff" stroke="#3b63b6" stroke-width="1.2" />
<line x1="510.70" y1="504.50" x2="514.70" y2="504.50" stroke="#3b63b6" stroke-width="1.0" />
<circle cx="520.30" cy="503.00" r="2.6" fill="#fff" stroke="#3b63b6" stroke-width="1.2" />
<line x1="518.30" y1="503.00" x2="522.30" y2="503.00" stroke="#3b63b6" stroke-width="1.0" />
<path d="M525.35,608.80 V501.90 H536.25 V608.80" fill="none" stroke="#f39445" stroke-width="1.3" />
<line x1="530.80" y1="490.75" x2="530.80" y2="510.00" stroke="#f39445" stroke-width="1.3" />
<circle cx="530.80" cy="490.75" r="2.6" fill="#fff" stroke="#f39445" stroke-width="1.2" />
<line x1="528.80" y1="490.75" x2="532.80" y2="490.75" stroke="#f39445" stroke-width="1.0" />
<circle cx="530.80" cy="510.00" r="2.6" fill="#fff" stroke="#f39445" stroke-width="1.2" />
<line x1="528.80" y1="510.00" x2="532.80" y2="510.00" stroke="#f39445" stroke-width="1.0" />
<path d="M539.95,608.80 V493.65 H550.85 V608.80" fill="none" stroke="#8d5eb7" stroke-width="1.3" />
<line x1="541.90" y1="493.00" x2="549.30" y2="493.00" stroke="#8d5eb7" stroke-width="1.3" />
<circle cx="541.90" cy="493.00" r="2.6" fill="#fff" stroke="#8d5eb7" stroke-width="1.2" />
<line x1="539.90" y1="493.00" x2="543.90" y2="493.00" stroke="#8d5eb7" stroke-width="1.0" />
<circle cx="549.30" cy="493.00" r="2.6" fill="#fff" stroke="#8d5eb7" stroke-width="1.2" />
<line x1="547.30" y1="493.00" x2="551.30" y2="493.00" stroke="#8d5eb7" stroke-width="1.0" />
<path d="M553.45,608.80 V513.15 H564.35 V608.80" fill="none" stroke="#e8413b" stroke-width="1.3" />
<line x1="553.45" y1="513.15" x2="553.45" y2="608.80" stroke="#f6a59d" stroke-width="1.3" />
<line x1="558.90" y1="506.25" x2="558.90" y2="517.50" stroke="#e8413b" stroke-width="1.3" />
<circle cx="558.90" cy="506.25" r="2.6" fill="#fff" stroke="#e8413b" stroke-width="1.2" />
<line x1="556.90" y1="506.25" x2="560.90" y2="506.25" stroke="#e8413b" stroke-width="1.0" />
<circle cx="558.90" cy="517.50" r="2.6" fill="#fff" stroke="#e8413b" stroke-width="1.2" />
<line x1="556.90" y1="517.50" x2="560.90" y2="517.50" stroke="#e8413b" stroke-width="1.0" />
<path d="M567.65,608.80 V505.15 H578.55 V608.80" fill="none" stroke="#4fb84b" stroke-width="1.3" />
<circle cx="573.10" cy="503.90" r="2.6" fill="#fff" stroke="#4fb84b" stroke-width="1.2" />
<line x1="571.10" y1="503.90" x2="575.10" y2="503.90" stroke="#4fb84b" stroke-width="1.0" />
<path d="M331.75,508.00 V502.00 H399.50 V508.00" fill="none" stroke="#3a3a3a" stroke-width="1.8" />
<path d="M423.25,508.00 V502.00 H490.75 V508.00" fill="none" stroke="#3a3a3a" stroke-width="1.8" />
<path d="M510.00,489.25 V483.25 H577.50 V489.25" fill="none" stroke="#3a3a3a" stroke-width="1.8" />
<path d="M366.25,501.5 V464.25 H552.5 V482.5" fill="none" stroke="#9a9a9a" stroke-width="1.2" />
<path d="M456.25,501.5 V473.75 H537 V482.5" fill="none" stroke="#9a9a9a" stroke-width="1.2" />
<path d="M457.50,458.40 L457.50,455.80 M457.50,458.40 L459.97,457.60 M457.50,458.40 L459.03,460.50 M457.50,458.40 L455.97,460.50 M457.50,458.40 L455.03,457.60 M463.80,458.40 L463.80,455.80 M463.80,458.40 L466.27,457.60 M463.80,458.40 L465.33,460.50 M463.80,458.40 L462.27,460.50 M463.80,458.40 L461.33,457.60 M470.10,458.40 L470.10,455.80 M470.10,458.40 L472.57,457.60 M470.10,458.40 L471.63,460.50 M470.10,458.40 L468.57,460.50 M470.10,458.40 L467.63,457.60 " fill="none" stroke="#8a8a8a" stroke-width="1.15" stroke-linecap="round"/>
<path d="M496.85,468.80 L496.85,466.20 M496.85,468.80 L499.32,468.00 M496.85,468.80 L498.38,470.90 M496.85,468.80 L495.32,470.90 M496.85,468.80 L494.38,468.00 M503.15,468.80 L503.15,466.20 M503.15,468.80 L505.62,468.00 M503.15,468.80 L504.68,470.90 M503.15,468.80 L501.62,470.90 M503.15,468.80 L500.68,468.00 " fill="none" stroke="#8a8a8a" stroke-width="1.15" stroke-linecap="round"/>
<text transform="translate(280.8,532.8) rotate(-90)" x="0" y="0" font-size="17" text-anchor="middle" fill="#231f20">Spontaneous</text>
<text transform="translate(298.2,537.8) rotate(-90)" font-size="17" text-anchor="middle" fill="#231f20">Ca<tspan font-size="9.5" dy="-5">2+</tspan><tspan dy="5"> amplitude</tspan></text>
<text x="309.0" y="633.7" font-size="17" >Group 1</text>
<text x="456.2" y="633.7" font-size="17" text-anchor="middle" >2</text>
<text x="545.8" y="633.7" font-size="17" text-anchor="middle" >3</text>
<text transform="translate(605.5,235.0) scale(0.93,1)" font-size="19.2" font-weight="bold" fill="#231f20" stroke="#231f20" stroke-width="0.55">F</text>
<text x="678.2" y="233.6" font-size="15" >(d2 relative to d1)</text>
<line x1="684.90" y1="248.30" x2="684.90" y2="395.80" stroke="#5c5c5c" stroke-width="1.3" />
<line x1="678.90" y1="249.00" x2="684.90" y2="249.00" stroke="#5c5c5c" stroke-width="1.3" />
<text x="675.9" y="258.4" font-size="17" text-anchor="end" >4</text>
<line x1="678.90" y1="285.55" x2="684.90" y2="285.55" stroke="#5c5c5c" stroke-width="1.3" />
<text x="675.9" y="293.0" font-size="17" text-anchor="end" >3</text>
<line x1="678.90" y1="322.10" x2="684.90" y2="322.10" stroke="#5c5c5c" stroke-width="1.3" />
<text x="675.9" y="328.6" font-size="17" text-anchor="end" >2</text>
<line x1="678.90" y1="358.65" x2="684.90" y2="358.65" stroke="#5c5c5c" stroke-width="1.3" />
<text x="675.9" y="364.7" font-size="17" text-anchor="end" >1</text>
<line x1="678.90" y1="395.20" x2="684.90" y2="395.20" stroke="#5c5c5c" stroke-width="1.3" />
<text x="675.9" y="400.2" font-size="17" text-anchor="end" >0</text>
<line x1="684.90" y1="359.10" x2="809.30" y2="359.10" stroke="#231f20" stroke-width="1.3" stroke-dasharray="2.6,2.6"/>
<line x1="678.90" y1="395.20" x2="809.00" y2="395.20" stroke="#5c5c5c" stroke-width="1.3" />
<line x1="711.20" y1="395.20" x2="711.20" y2="401.70" stroke="#5c5c5c" stroke-width="1.3" />
<line x1="776.10" y1="395.20" x2="776.10" y2="401.70" stroke="#5c5c5c" stroke-width="1.3" />
<path d="M690.45,395.20 V336.35 H701.65 V395.20" fill="none" stroke="#a58bd0" stroke-width="1.3" />
<circle cx="696.05" cy="335.40" r="2.6" fill="#fff" stroke="#a58bd0" stroke-width="1.2" />
<line x1="694.05" y1="335.40" x2="698.05" y2="335.40" stroke="#a58bd0" stroke-width="1.0" />
<path d="M704.75,395.20 V317.25 H715.95 V395.20" fill="none" stroke="#88c986" stroke-width="1.3" />
<circle cx="710.35" cy="316.30" r="2.6" fill="#fff" stroke="#88c986" stroke-width="1.2" />
<line x1="708.35" y1="316.30" x2="712.35" y2="316.30" stroke="#88c986" stroke-width="1.0" />
<path d="M719.25,395.20 V328.35 H730.45 V395.20" fill="none" stroke="#f7a46f" stroke-width="1.3" />
<circle cx="724.85" cy="327.40" r="2.6" fill="#fff" stroke="#f7a46f" stroke-width="1.2" />
<line x1="722.85" y1="327.40" x2="726.85" y2="327.40" stroke="#f7a46f" stroke-width="1.0" />
<path d="M756.35,395.20 V327.55 H767.55 V395.20" fill="none" stroke="#f4805c" stroke-width="1.3" />
<circle cx="761.95" cy="326.60" r="2.6" fill="#fff" stroke="#f4805c" stroke-width="1.2" />
<line x1="759.95" y1="326.60" x2="763.95" y2="326.60" stroke="#f4805c" stroke-width="1.0" />
<path d="M770.45,395.20 V318.45 H781.65 V395.20" fill="none" stroke="#6e82cf" stroke-width="1.3" />
<circle cx="776.05" cy="317.50" r="2.6" fill="#fff" stroke="#6e82cf" stroke-width="1.2" />
<line x1="774.05" y1="317.50" x2="778.05" y2="317.50" stroke="#6e82cf" stroke-width="1.0" />
<path d="M784.75,395.20 V309.15 H795.95 V395.20" fill="none" stroke="#f7a46f" stroke-width="1.3" />
<circle cx="790.35" cy="308.20" r="2.6" fill="#fff" stroke="#f7a46f" stroke-width="1.2" />
<line x1="788.35" y1="308.20" x2="792.35" y2="308.20" stroke="#f7a46f" stroke-width="1.0" />
<path d="M689.80,294.00 V288.20 H796.60 V294.00" fill="none" stroke="#3a3a3a" stroke-width="1.8" />
<path d="M740.80,283.70 L740.80,281.10 M740.80,283.70 L743.27,282.90 M740.80,283.70 L742.33,285.80 M740.80,283.70 L739.27,285.80 M740.80,283.70 L738.33,282.90 M747.20,283.70 L747.20,281.10 M747.20,283.70 L749.67,282.90 M747.20,283.70 L748.73,285.80 M747.20,283.70 L745.67,285.80 M747.20,283.70 L744.73,282.90 " fill="none" stroke="#231f20" stroke-width="1.15" stroke-linecap="round"/>
<text transform="translate(642.5,320.2) rotate(-90)" x="0" y="0" font-size="17" text-anchor="middle" fill="#231f20">Spontaneous</text>
<text transform="translate(660.4,322) rotate(-90)" font-size="17" text-anchor="middle" fill="#231f20">Ca<tspan font-size="9.5" dy="-5">2+</tspan><tspan dy="5"> frequency</tspan></text>
<circle cx="679.70" cy="418.20" r="2.8" fill="none" stroke="#a58bd0" stroke-width="1.3" />
<text x="687.2" y="422.8" font-size="15.3" >#54</text>
<circle cx="731.00" cy="418.20" r="2.8" fill="none" stroke="#88c986" stroke-width="1.3" />
<text x="737.7" y="422.8" font-size="15.3" >#35</text>
<circle cx="776.70" cy="418.20" r="2.8" fill="none" stroke="#f7a46f" stroke-width="1.3" />
<text x="782.5" y="422.8" font-size="15.3" >#37</text>
<circle cx="679.70" cy="437.00" r="2.8" fill="none" stroke="#f4805c" stroke-width="1.3" />
<text x="687.2" y="441.6" font-size="15.3" >#40</text>
<circle cx="731.00" cy="437.00" r="2.8" fill="none" stroke="#6e82cf" stroke-width="1.3" />
<text x="737.7" y="441.6" font-size="15.3" >#4</text>
<line x1="686.20" y1="464.90" x2="686.20" y2="612.60" stroke="#5c5c5c" stroke-width="1.3" />
<line x1="680.20" y1="465.50" x2="686.20" y2="465.50" stroke="#5c5c5c" stroke-width="1.3" />
<text x="677.8" y="473.4" font-size="17" text-anchor="end" >2</text>
<line x1="680.20" y1="538.75" x2="686.20" y2="538.75" stroke="#5c5c5c" stroke-width="1.3" />
<text x="677.8" y="545.5" font-size="17" text-anchor="end" >1</text>
<line x1="680.20" y1="612.00" x2="686.20" y2="612.00" stroke="#5c5c5c" stroke-width="1.3" />
<text x="677.8" y="617.7" font-size="17" text-anchor="end" >0</text>
<line x1="686.60" y1="538.80" x2="812.00" y2="538.80" stroke="#8a8a8a" stroke-width="1.2" stroke-dasharray="2.6,2.6"/>
<line x1="681.00" y1="612.00" x2="810.90" y2="612.00" stroke="#5c5c5c" stroke-width="1.3" />
<line x1="712.80" y1="612.00" x2="712.80" y2="617.00" stroke="#5c5c5c" stroke-width="1.3" />
<line x1="778.70" y1="612.00" x2="778.70" y2="617.00" stroke="#5c5c5c" stroke-width="1.3" />
<path d="M692.85,612.00 V517.85 H703.95 V612.00" fill="none" stroke="#a58bd0" stroke-width="1.3" />
<circle cx="698.40" cy="516.90" r="2.6" fill="#fff" stroke="#a58bd0" stroke-width="1.2" />
<line x1="696.40" y1="516.90" x2="700.40" y2="516.90" stroke="#a58bd0" stroke-width="1.0" />
<path d="M706.75,612.00 V510.15 H717.85 V612.00" fill="none" stroke="#88c986" stroke-width="1.3" />
<circle cx="712.30" cy="509.20" r="2.6" fill="#fff" stroke="#88c986" stroke-width="1.2" />
<line x1="710.30" y1="509.20" x2="714.30" y2="509.20" stroke="#88c986" stroke-width="1.0" />
<path d="M720.95,612.00 V494.15 H732.05 V612.00" fill="none" stroke="#f7a46f" stroke-width="1.3" />
<circle cx="726.50" cy="493.20" r="2.6" fill="#fff" stroke="#f7a46f" stroke-width="1.2" />
<line x1="724.50" y1="493.20" x2="728.50" y2="493.20" stroke="#f7a46f" stroke-width="1.0" />
<path d="M758.25,612.00 V520.15 H769.35 V612.00" fill="none" stroke="#f4805c" stroke-width="1.3" />
<circle cx="763.80" cy="519.20" r="2.6" fill="#fff" stroke="#f4805c" stroke-width="1.2" />
<line x1="761.80" y1="519.20" x2="765.80" y2="519.20" stroke="#f4805c" stroke-width="1.0" />
<path d="M772.65,612.00 V521.25 H783.75 V612.00" fill="none" stroke="#6e82cf" stroke-width="1.3" />
<circle cx="778.20" cy="520.30" r="2.6" fill="#fff" stroke="#6e82cf" stroke-width="1.2" />
<line x1="776.20" y1="520.30" x2="780.20" y2="520.30" stroke="#6e82cf" stroke-width="1.0" />
<path d="M786.65,612.00 V502.85 H797.75 V612.00" fill="none" stroke="#f7a46f" stroke-width="1.3" />
<circle cx="792.20" cy="501.90" r="2.6" fill="#fff" stroke="#f7a46f" stroke-width="1.2" />
<line x1="790.20" y1="501.90" x2="794.20" y2="501.90" stroke="#f7a46f" stroke-width="1.0" />
<path d="M691.50,490.00 V484.40 H798.00 V490.00" fill="none" stroke="#3a3a3a" stroke-width="1.8" />
<path d="M741.80,480.00 L741.80,477.40 M741.80,480.00 L744.27,479.20 M741.80,480.00 L743.33,482.10 M741.80,480.00 L740.27,482.10 M741.80,480.00 L739.33,479.20 M748.20,480.00 L748.20,477.40 M748.20,480.00 L750.67,479.20 M748.20,480.00 L749.73,482.10 M748.20,480.00 L746.67,482.10 M748.20,480.00 L745.73,479.20 " fill="none" stroke="#231f20" stroke-width="1.15" stroke-linecap="round"/>
<text transform="translate(648.2,536.0) rotate(-90)" x="0" y="0" font-size="17" text-anchor="middle" fill="#231f20">Spontaneous</text>
<text transform="translate(665.6,539.5) rotate(-90)" font-size="17" text-anchor="middle" fill="#231f20">Ca<tspan font-size="9.5" dy="-5">2+</tspan><tspan dy="5"> amplitude</tspan></text>
<text x="651.2" y="633.3" font-size="17" >Group</text>
<text x="712.8" y="633.1" font-size="17" text-anchor="middle" >4</text>
<text x="778.7" y="633.1" font-size="17" text-anchor="middle" >5</text>
<text transform="translate(834.3,232.1) scale(0.93,1)" font-size="19.2" font-weight="bold" fill="#231f20" stroke="#231f20" stroke-width="0.55">G</text>
<text x="851.2" y="257.2" font-size="17.2" >Ejaculation &amp; Post-ejaculation</text>
<path d="M849,279 H893 Q897.3,279 897.3,283 V297.5 H891 V285.5 H864.5 V298.8 H855.8 V285.5 H849 Z" fill="#bcbdc0" stroke="#231f20" stroke-width="1.4" />
<path d="M864.5,297.5 L870.5,297.5" fill="none" stroke="#231f20" stroke-width="2" />
<path d="M870.5,303.2 H929.7 V361 Q930.5,357 933.5,356.7 H952.6 L955.3,369 H966 V377.2 H934.6 L930.8,374.7 H870.5 Z" fill="#7aabd3" stroke="none" stroke-width="1" />
<path d="M864.5,297.4 H870.5 V374.7 H930.8 L934.6,377.2 H966" fill="none" stroke="#231f20" stroke-width="2.0" />
<path d="M936.6,295.4 H929.7 V361 Q930.5,357 933.5,356.7 H952.6 L955.3,369 H966" fill="none" stroke="#231f20" stroke-width="2.0" />
<g fill="#7aabd6"><rect x="965.9" y="373.8" width="2.3" height="2.3" transform="rotate(35 967.1 375.0)"/><rect x="967.4" y="371.1" width="2.3" height="2.3" transform="rotate(35 968.5 372.2)"/><rect x="966.5" y="375.6" width="2.3" height="2.3" transform="rotate(35 967.6 376.7)"/><rect x="968.1" y="373.4" width="2.3" height="2.3" transform="rotate(35 969.2 374.5)"/><rect x="966.8" y="377.6" width="2.3" height="2.3" transform="rotate(35 967.9 378.7)"/><rect x="968.9" y="374.5" width="2.3" height="2.3" transform="rotate(35 970.1 375.6)"/><rect x="967.0" y="379.9" width="2.3" height="2.3" transform="rotate(35 968.1 381.0)"/><rect x="968.5" y="377.5" width="2.3" height="2.3" transform="rotate(35 969.7 378.7)"/><rect x="970.5" y="376.1" width="2.3" height="2.3" transform="rotate(35 971.6 377.2)"/><rect x="967.5" y="381.0" width="2.3" height="2.3" transform="rotate(35 968.7 382.1)"/><rect x="969.7" y="378.4" width="2.3" height="2.3" transform="rotate(35 970.9 379.6)"/><rect x="971.6" y="376.8" width="2.3" height="2.3" transform="rotate(35 972.7 377.9)"/><rect x="967.7" y="382.6" width="2.3" height="2.3" transform="rotate(35 968.8 383.8)"/><rect x="970.0" y="381.2" width="2.3" height="2.3" transform="rotate(35 971.1 382.3)"/><rect x="972.1" y="379.0" width="2.3" height="2.3" transform="rotate(35 973.3 380.1)"/><rect x="968.1" y="384.5" width="2.3" height="2.3" transform="rotate(35 969.3 385.7)"/><rect x="969.9" y="382.6" width="2.3" height="2.3" transform="rotate(35 971.1 383.8)"/><rect x="971.4" y="381.5" width="2.3" height="2.3" transform="rotate(35 972.6 382.7)"/><rect x="973.7" y="379.7" width="2.3" height="2.3" transform="rotate(35 974.9 380.9)"/><rect x="968.3" y="386.6" width="2.3" height="2.3" transform="rotate(35 969.4 387.7)"/><rect x="970.5" y="384.6" width="2.3" height="2.3" transform="rotate(35 971.6 385.7)"/><rect x="972.8" y="383.1" width="2.3" height="2.3" transform="rotate(35 973.9 384.2)"/><rect x="974.4" y="381.7" width="2.3" height="2.3" transform="rotate(35 975.5 382.8)"/><rect x="968.7" y="388.6" width="2.3" height="2.3" transform="rotate(35 969.8 389.7)"/><rect x="970.6" y="386.5" width="2.3" height="2.3" transform="rotate(35 971.8 387.6)"/><rect x="972.6" y="384.8" width="2.3" height="2.3" transform="rotate(35 973.8 385.9)"/><rect x="973.9" y="384.4" width="2.3" height="2.3" transform="rotate(35 975.1 385.6)"/><rect x="975.5" y="383.0" width="2.3" height="2.3" transform="rotate(35 976.6 384.1)"/><rect x="968.8" y="390.6" width="1.9" height="1.9" transform="rotate(35 969.7 391.5)"/><rect x="971.4" y="388.6" width="1.9" height="1.9" transform="rotate(35 972.4 389.5)"/><rect x="973.5" y="386.8" width="1.9" height="1.9" transform="rotate(35 974.4 387.7)"/><rect x="975.2" y="385.8" width="1.9" height="1.9" transform="rotate(35 976.2 386.7)"/><rect x="977.1" y="384.3" width="1.9" height="1.9" transform="rotate(35 978.0 385.3)"/><rect x="970.0" y="392.0" width="1.9" height="1.9" transform="rotate(35 970.9 392.9)"/><rect x="971.7" y="390.5" width="1.9" height="1.9" transform="rotate(35 972.6 391.4)"/><rect x="973.3" y="389.4" width="1.9" height="1.9" transform="rotate(35 974.3 390.3)"/><rect x="976.0" y="387.7" width="1.9" height="1.9" transform="rotate(35 977.0 388.7)"/><rect x="978.3" y="385.4" width="1.9" height="1.9" transform="rotate(35 979.3 386.4)"/><rect x="969.7" y="393.2" width="1.9" height="1.9" transform="rotate(35 970.6 394.1)"/><rect x="977.0" y="389.1" width="1.9" height="1.9" transform="rotate(35 978.0 390.0)"/><rect x="978.7" y="387.6" width="1.9" height="1.9" transform="rotate(35 979.6 388.6)"/><rect x="970.6" y="395.3" width="1.9" height="1.9" transform="rotate(35 971.6 396.2)"/><rect x="971.9" y="394.0" width="1.9" height="1.9" transform="rotate(35 972.9 394.9)"/><rect x="974.6" y="392.0" width="1.9" height="1.9" transform="rotate(35 975.6 392.9)"/><rect x="977.9" y="390.3" width="1.9" height="1.9" transform="rotate(35 978.8 391.3)"/><rect x="970.3" y="397.1" width="1.9" height="1.9" transform="rotate(35 971.3 398.1)"/><rect x="972.8" y="395.5" width="1.9" height="1.9" transform="rotate(35 973.8 396.5)"/><rect x="974.2" y="394.2" width="1.9" height="1.9" transform="rotate(35 975.2 395.1)"/><rect x="976.4" y="393.6" width="1.9" height="1.9" transform="rotate(35 977.3 394.6)"/><rect x="978.1" y="392.1" width="1.9" height="1.9" transform="rotate(35 979.0 393.0)"/><rect x="979.0" y="391.1" width="1.9" height="1.9" transform="rotate(35 980.0 392.1)"/><rect x="970.3" y="398.5" width="1.9" height="1.9" transform="rotate(35 971.3 399.5)"/><rect x="974.1" y="396.2" width="1.9" height="1.9" transform="rotate(35 975.0 397.1)"/><rect x="977.1" y="394.5" width="1.9" height="1.9" transform="rotate(35 978.0 395.4)"/><rect x="978.2" y="394.0" width="1.9" height="1.9" transform="rotate(35 979.1 395.0)"/><rect x="979.9" y="393.6" width="1.9" height="1.9" transform="rotate(35 980.9 394.5)"/><rect x="982.3" y="391.2" width="1.9" height="1.9" transform="rotate(35 983.3 392.2)"/><rect x="970.6" y="400.5" width="1.9" height="1.9" transform="rotate(35 971.5 401.4)"/><rect x="974.5" y="398.4" width="1.9" height="1.9" transform="rotate(35 975.5 399.3)"/><rect x="976.8" y="396.5" width="1.9" height="1.9" transform="rotate(35 977.7 397.5)"/><rect x="979.3" y="395.8" width="1.9" height="1.9" transform="rotate(35 980.3 396.8)"/><rect x="971.8" y="402.2" width="1.9" height="1.9" transform="rotate(35 972.7 403.1)"/><rect x="975.6" y="400.0" width="1.9" height="1.9" transform="rotate(35 976.6 401.0)"/><rect x="977.5" y="398.8" width="1.9" height="1.9" transform="rotate(35 978.4 399.8)"/><rect x="978.5" y="397.8" width="1.9" height="1.9" transform="rotate(35 979.4 398.8)"/><rect x="984.8" y="394.3" width="1.9" height="1.9" transform="rotate(35 985.8 395.2)"/><rect x="972.4" y="403.9" width="1.9" height="1.9" transform="rotate(35 973.4 404.8)"/><rect x="977.2" y="401.1" width="1.9" height="1.9" transform="rotate(35 978.1 402.0)"/><rect x="980.2" y="399.2" width="1.9" height="1.9" transform="rotate(35 981.1 400.1)"/><rect x="983.9" y="397.2" width="1.9" height="1.9" transform="rotate(35 984.8 398.2)"/><rect x="986.0" y="395.4" width="1.9" height="1.9" transform="rotate(35 986.9 396.4)"/><rect x="974.3" y="404.1" width="1.9" height="1.9" transform="rotate(35 975.3 405.1)"/><rect x="975.5" y="403.8" width="1.9" height="1.9" transform="rotate(35 976.4 404.8)"/><rect x="978.8" y="402.1" width="1.9" height="1.9" transform="rotate(35 979.7 403.0)"/><rect x="980.6" y="401.2" width="1.9" height="1.9" transform="rotate(35 981.6 402.2)"/><rect x="985.9" y="398.0" width="1.9" height="1.9" transform="rotate(35 986.9 398.9)"/></g>
<path d="M966,371.5 L969.5,371 L973,377 L968.5,381 Z" fill="#7aabd6" stroke="none" stroke-width="1" />
<text x="943.1" y="299.8" font-size="14" >Fast drive</text>
<text x="943.1" y="313.9" font-size="14" >release</text>
<text x="934.4" y="348.9" font-size="14.8" fill="#a4479d">BNST<tspan font-size="8.6" dy="-5.2" letter-spacing="-0.3">Esr2</tspan></text>
<path d="M974.2,361.7 L978.6,357.8 V375.0 L974.2,373.7 Z" fill="#9440a8" stroke="#2e1f2a" stroke-width="1.0" />
<path d="M978.8,366.4 L979.5,376.5 L980.8,357.5 L982.1,376.5 L983.4,357.5 L984.8,376.5 L986.1,357.5 L987.4,376.5 L988.7,362.4" fill="none" stroke="#b04fa5" stroke-width="0.7" stroke-linejoin="miter" stroke-miterlimit="20"/>
<line x1="989.40" y1="365.40" x2="1010.00" y2="365.40" stroke="#5a504d" stroke-width="1.9" />
<circle cx="1012.60" cy="365.60" r="2.6" fill="#fff" stroke="#231f20" stroke-width="1.6" />
<path d="M994.2,379.6 H1020 V377.6 L1026,383 L1020,388.4 V386.4 H994.2 Z" fill="#000" stroke="none" stroke-width="1" />
<path d="M1014.4,399.1 L1028.7,399.1 L1032.2,335.6 L1033.4,335.6 L1036.7,399.1 L1041.2,399.1 L1042.3,377.8 L1043.3,377.8 L1044.4,399.1 L1048.4,399.1 L1049.5,377.8 L1050.5,377.8 L1051.6,399.1 L1056.0,399.1 L1057.1,377.8 L1058.1,377.8 L1059.2,399.1 L1063.1,399.1 L1064.2,377.8 L1065.2,377.8 L1066.3,399.1 L1070.6,399.1 L1071.7,377.8 L1072.7,377.8 L1073.8,399.1 L1078.3,399.1" fill="none" stroke="#7b40a8" stroke-width="1.6" stroke-linejoin="round"/>
<text x="1049.2" y="365.6" font-size="14" >AP</text>
<text x="937.2" y="462.0" font-size="16.8" >Satiety</text>
<path d="M849,482.9 H893 Q897.3,482.9 897.3,486.9 V501.4 H891 V489.4 H864.5 V502.70000000000005 H855.8 V489.4 H849 Z" fill="#bcbdc0" stroke="#231f20" stroke-width="1.4" />
<path d="M863.3,500.4 H871.1 V578.9 H931.1 L934.4,581.1 H966.7" fill="none" stroke="#231f20" stroke-width="2.0" />
<path d="M872,577.2 H931 L934.3,579.4 H966.5" fill="none" stroke="#5ea0d6" stroke-width="1.5" />
<path d="M936.7,499.3 H930 V565.6 Q930.6,561 933.3,560.7 H952.9 L955.6,573.8 H966.2" fill="none" stroke="#231f20" stroke-width="2.0" />
<g fill="#5b9bd1"><rect x="888.6" y="503.8" width="2.0" height="1.3"/><rect x="891.6" y="503.8" width="2.0" height="1.3"/><rect x="894.6" y="503.8" width="2.0" height="1.3"/><rect x="889.4" y="506.8" width="2.0" height="1.3"/><rect x="892.4" y="506.8" width="2.0" height="1.3"/><rect x="895.4" y="506.8" width="2.0" height="1.3"/><rect x="888.6" y="509.8" width="2.0" height="1.3"/><rect x="891.6" y="509.8" width="2.0" height="1.3"/><rect x="894.6" y="509.8" width="2.0" height="1.3"/><rect x="889.4" y="512.8" width="2.0" height="1.3"/><rect x="892.4" y="512.8" width="2.0" height="1.3"/><rect x="895.4" y="512.8" width="2.0" height="1.3"/><rect x="888.6" y="515.8" width="2.0" height="1.3"/><rect x="891.6" y="515.8" width="2.0" height="1.3"/><rect x="894.6" y="515.8" width="2.0" height="1.3"/><rect x="889.4" y="518.8" width="2.0" height="1.3"/><rect x="892.4" y="518.8" width="2.0" height="1.3"/><rect x="895.4" y="518.8" width="2.0" height="1.3"/><rect x="888.6" y="521.8" width="2.0" height="1.3"/><rect x="891.6" y="521.8" width="2.0" height="1.3"/><rect x="894.6" y="521.8" width="2.0" height="1.3"/><rect x="889.4" y="524.8" width="2.0" height="1.3"/><rect x="892.4" y="524.8" width="2.0" height="1.3"/><rect x="895.4" y="524.8" width="2.0" height="1.3"/></g>
<g fill="#5b9bd1"><rect x="967.2" y="582.5" width="1.6" height="1.4"/><rect x="969.7" y="582.5" width="1.6" height="1.4"/><rect x="967.2" y="585.5" width="1.6" height="1.4"/><rect x="969.8" y="585.5" width="1.6" height="1.4"/><rect x="967.3" y="588.5" width="1.6" height="1.4"/><rect x="969.8" y="588.5" width="1.6" height="1.4"/><rect x="967.4" y="591.5" width="1.6" height="1.4"/><rect x="969.9" y="591.5" width="1.6" height="1.4"/><rect x="967.4" y="594.5" width="1.6" height="1.4"/><rect x="969.9" y="594.5" width="1.6" height="1.4"/><rect x="967.5" y="597.5" width="1.6" height="1.4"/><rect x="970.0" y="597.5" width="1.6" height="1.4"/><rect x="967.5" y="600.5" width="1.6" height="1.4"/><rect x="970.0" y="600.5" width="1.6" height="1.4"/><rect x="967.6" y="603.5" width="1.6" height="1.4"/><rect x="970.1" y="603.5" width="1.6" height="1.4"/></g>
<text x="946.7" y="503.8" font-size="14" >No drive</text>
<text x="946.7" y="517.8" font-size="14" >accumulation</text>
<text x="938.4" y="551.8" font-size="14.8" fill="#a4479d">BNST<tspan font-size="8.6" dy="-5.2" letter-spacing="-0.3">Esr2</tspan></text>
<path d="M980.4,565.5 L984.8,561.6 V580.0 L980.4,578.7 Z" fill="#9440a8" stroke="#2e1f2a" stroke-width="1.0" />
<path d="M985.0,570.8 L985.7,581.5 L987.2,561.3 L988.7,581.5 L990.1,561.3 L991.6,581.5 L993.0,561.3 L994.5,581.5 L996.0,566.8" fill="none" stroke="#b04fa5" stroke-width="0.7" stroke-linejoin="miter" stroke-miterlimit="20"/>
<line x1="996.70" y1="570.40" x2="1016.30" y2="570.40" stroke="#5a504d" stroke-width="1.9" />
<circle cx="1018.90" cy="570.40" r="2.6" fill="#fff" stroke="#231f20" stroke-width="1.6" />
<text x="1027.3" y="570.0" font-size="14" >AP</text>
<path d="M1015.1,599.6 L1020.2,599.6 L1021.3,578.9 L1022.3,578.9 L1023.4,599.6 L1027.3,599.6 L1028.4,578.9 L1029.4,578.9 L1030.5,599.6 L1034.0,599.6 L1035.1,578.9 L1036.1,578.9 L1037.2,599.6 L1041.1,599.6 L1042.2,578.9 L1043.2,578.9 L1044.3,599.6 L1048.4,599.6 L1049.5,578.9 L1050.5,578.9 L1051.6,599.6 L1056,599.6" fill="none" stroke="#7b40a8" stroke-width="1.6" stroke-linejoin="round"/>
<text transform="translate(2.2,677.0) scale(0.93,1)" font-size="19.2" font-weight="bold" fill="#231f20" stroke="#231f20" stroke-width="0.55">H</text>
<text x="44.6" y="697.5" font-size="15" font-style="italic" >Esr2-Cre</text>
<path d="M74.2,731 C66,729 56,729 47,731 C32,735 22,748 21.5,765 C21.5,780 30,792 40.5,797.3 L109.6,797.3 C120,792 128,780 128,765 C127.5,748 117,735 102,731 C93,729 82,729 74.2,731 Z" fill="#fff" stroke="#4a4a4a" stroke-width="0.8" />
<path d="M74.2,731 V747" fill="none" stroke="#4a4a4a" stroke-width="0.7" />
<path d="M47.5,749 C50,747 53,745.6 57,745.4 C63,745.4 68,747 74.2,749 C80.4,747 85.4,745.4 91.4,745.4 C95.4,745.6 98.4,747 101,749" fill="none" stroke="#4a4a4a" stroke-width="0.9" />
<path d="M57,745.6 C58,752 60,760 63,768 M91.4,745.6 C90.4,752 88.4,760 85.4,768" fill="none" stroke="#4a4a4a" stroke-width="0.7" />
<path d="M64,749.5 C66,752 70,751 74.2,751.5 C78.4,751 82.4,752 84.4,749.5" fill="none" stroke="#4a4a4a" stroke-width="0.7" />
<path d="M50.5,748.5 C40,752 33,760 34.3,768 C35.5,777 40,783 45,784 C48,784.3 50.5,782.5 51.6,780.5 C47,781.5 42,780 40,774 C37.5,765 42,756 51.5,751" fill="none" stroke="#4a4a4a" stroke-width="0.9" />
<path d="M97.9,748.5 C108.4,752 115.4,760 114.1,768 C112.9,777 108.4,783 103.4,784 C100.4,784.3 97.9,782.5 96.8,780.5 C101.4,781.5 106.4,780 108.4,774 C110.9,765 106.4,756 96.9,751" fill="none" stroke="#4a4a4a" stroke-width="0.9" />
<path d="M71,774 C70.5,770 72,767.5 74.2,767.5 C76.4,767.5 77.9,770 77.4,774 C76.5,775.5 72,775.5 71,774 Z M67.9,777.4 H80.5" fill="none" stroke="#4a4a4a" stroke-width="0.7" />
<path d="M58.5,765.5 C57,767 57.5,770 59.5,769.5 L60,776 M89.9,765.5 C91.4,767 90.9,770 88.9,769.5 L88.4,776" fill="none" stroke="#4a4a4a" stroke-width="0.7" />
<path d="M74.2,777.4 V795 M70.9,797 L74.2,790.5 L77.5,797" fill="none" stroke="#4a4a4a" stroke-width="0.8" />
<ellipse cx="66.1" cy="778.5" rx="1.9" ry="7" fill="#6f8fd6" transform="rotate(-22 66.1 778.5)"/>
<ellipse cx="82.3" cy="778.5" rx="1.9" ry="7" fill="#6f8fd6" transform="rotate(22 82.3 778.5)"/>
<rect x="59.60" y="710.70" width="6.60" height="15.80" fill="#fff" stroke="#231f20" stroke-width="1.0" />
<rect x="60.10" y="715.80" width="5.60" height="10.20" fill="#7b97da" stroke="none" stroke-width="1" />
<rect x="58.70" y="708.40" width="8.40" height="2.20" fill="#231f20" stroke="none" stroke-width="1" />
<rect x="61.70" y="704.00" width="2.40" height="4.60" fill="#9a9a9a" stroke="#231f20" stroke-width="0.5" />
<rect x="59.90" y="702.20" width="6.00" height="1.90" fill="#231f20" stroke="none" stroke-width="1" />
<line x1="63.30" y1="726.50" x2="63.30" y2="771.50" stroke="#231f20" stroke-width="1.1" />
<rect x="82.50" y="710.70" width="6.60" height="15.80" fill="#fff" stroke="#231f20" stroke-width="1.0" />
<rect x="83.00" y="715.80" width="5.60" height="10.20" fill="#7b97da" stroke="none" stroke-width="1" />
<rect x="81.60" y="708.40" width="8.40" height="2.20" fill="#231f20" stroke="none" stroke-width="1" />
<rect x="84.60" y="704.00" width="2.40" height="4.60" fill="#9a9a9a" stroke="#231f20" stroke-width="0.5" />
<rect x="82.80" y="702.20" width="6.00" height="1.90" fill="#231f20" stroke="none" stroke-width="1" />
<line x1="86.60" y1="726.50" x2="86.60" y2="771.50" stroke="#231f20" stroke-width="1.1" />
<text x="22.6" y="813.6" font-size="15.5" >AAV-DIO-hM4Di</text>
<text x="22.6" y="829.3" font-size="15.3" >or -mCherry(Ctrl)</text>
<text transform="translate(155.0,679.7) scale(0.93,1)" font-size="19.2" font-weight="bold" fill="#231f20" stroke="#231f20" stroke-width="0.55">I</text>
<text x="214.3" y="682.5" font-size="15" text-anchor="middle" >Satiated</text>
<path d="M170,689.4 V715 H258.3 V689.4" fill="none" stroke="#4a4040" stroke-width="1.5" />
<use href="#mouse" transform="translate(191.70,690.00) scale(0.4400,0.4400)" fill="#245a66" stroke="#163840" stroke-width="1.591"/>
<text x="211.9" y="731.1" font-size="15.3" text-anchor="middle" >24h after final</text>
<text x="214.2" y="744.2" font-size="15.3" text-anchor="middle" >ejaculation</text>
<line x1="211.80" y1="754.30" x2="211.80" y2="811.00" stroke="#231f20" stroke-width="1.3" marker-end="url(#ah)"/>
<text transform="translate(204.6,783.0) rotate(-90)" x="0" y="0" font-size="14.8" text-anchor="middle" fill="#231f20">+CNO</text>
<text transform="translate(227.4,783.4) rotate(-90)" x="0" y="0" font-size="14.8" text-anchor="middle" fill="#231f20">30min</text>
<path d="M169.3,824.1 V849.1 H257.2 V824.1" fill="none" stroke="#4a4040" stroke-width="1.5" />
<text x="171.6" y="841.0" font-size="14" >S</text>
<use href="#mouse" transform="translate(182.90,825.80) scale(0.4340,0.4340)" fill="#245a66" stroke="#163840" stroke-width="1.613"/>
<path d="M243,817.5 C236,816.5 229,818 225,822.5" fill="none" stroke="#231f20" stroke-width="1.0" marker-end="url(#ahs)"/>
<circle cx="252.40" cy="813.60" r="3.3" fill="none" stroke="#231f20" stroke-width="1.4" />
<line x1="252.40" y1="816.90" x2="252.40" y2="824.10" stroke="#231f20" stroke-width="1.4" />
<line x1="248.90" y1="820.90" x2="255.90" y2="820.90" stroke="#231f20" stroke-width="1.4" />
<line x1="348.40" y1="692.50" x2="348.40" y2="827.80" stroke="#5c5c5c" stroke-width="1.3" />
<line x1="342.90" y1="693.10" x2="348.40" y2="693.10" stroke="#5c5c5c" stroke-width="1.3" />
<text x="340.2" y="699.9" font-size="17" text-anchor="end" >100</text>
<line x1="342.90" y1="760.40" x2="348.40" y2="760.40" stroke="#5c5c5c" stroke-width="1.3" />
<text x="340.2" y="766.9" font-size="17" text-anchor="end" >50</text>
<line x1="342.90" y1="827.20" x2="348.40" y2="827.20" stroke="#5c5c5c" stroke-width="1.3" />
<text x="340.2" y="832.2" font-size="17" text-anchor="end" >0</text>
<rect x="392.20" y="711.90" width="24.40" height="115.30" fill="#4cbfe4" stroke="#2e93b8" stroke-width="1.0" />
<line x1="356.90" y1="826.30" x2="381.30" y2="826.30" stroke="#1f5661" stroke-width="1.8" />
<line x1="343.00" y1="827.20" x2="427.50" y2="827.20" stroke="#5c5c5c" stroke-width="1.3" />
<line x1="369.50" y1="827.20" x2="369.50" y2="833.00" stroke="#5c5c5c" stroke-width="1.3" />
<line x1="404.80" y1="827.20" x2="404.80" y2="833.00" stroke="#5c5c5c" stroke-width="1.3" />
<text x="393.7" y="773.2" font-size="17" >6/7</text>
<text x="360.4" y="814.1" font-size="17" >0/8</text>
<text x="349.8" y="849.6" font-size="17" >Ctrl</text>
<text x="379.9" y="849.6" font-size="17" >hM4Di</text>
<text transform="translate(313.2,822.6) rotate(-90)" font-size="18" fill="#231f20">Ejaculation</text>
<text transform="translate(313.2,727.8) rotate(-90)" font-size="18" fill="#231f20" letter-spacing="1.6">(%)</text>
<line x1="507.80" y1="694.40" x2="507.80" y2="827.90" stroke="#5c5c5c" stroke-width="1.3" />
<line x1="502.60" y1="695.00" x2="507.80" y2="695.00" stroke="#5c5c5c" stroke-width="1.3" />
<text x="498.6" y="701.5" font-size="17" text-anchor="end" >100</text>
<line x1="502.60" y1="761.30" x2="507.80" y2="761.30" stroke="#5c5c5c" stroke-width="1.3" />
<text x="498.6" y="766.9" font-size="17" text-anchor="end" >50</text>
<line x1="502.60" y1="827.30" x2="507.80" y2="827.30" stroke="#5c5c5c" stroke-width="1.3" />
<text x="498.6" y="831.5" font-size="17" text-anchor="end" >0</text>
<rect x="551.40" y="760.70" width="24.70" height="66.60" fill="#4cbfe4" stroke="#2e93b8" stroke-width="1.0" />
<line x1="503.40" y1="827.30" x2="585.00" y2="827.30" stroke="#5c5c5c" stroke-width="1.3" />
<line x1="528.90" y1="827.30" x2="528.90" y2="832.30" stroke="#5c5c5c" stroke-width="1.3" />
<line x1="563.50" y1="827.30" x2="563.50" y2="832.30" stroke="#5c5c5c" stroke-width="1.3" />
<line x1="563.70" y1="744.30" x2="563.70" y2="776.30" stroke="#2a6f86" stroke-width="1.3" />
<line x1="559.30" y1="744.30" x2="568.10" y2="744.30" stroke="#2a6f86" stroke-width="1.3" />
<line x1="559.30" y1="776.30" x2="568.10" y2="776.30" stroke="#2a6f86" stroke-width="1.3" />
<circle cx="561.70" cy="695.50" r="3.3" fill="#1f5661" stroke="none" stroke-width="1" />
<circle cx="564.00" cy="735.90" r="3.3" fill="#1f5661" stroke="none" stroke-width="1" />
<circle cx="561.70" cy="752.90" r="3.3" fill="#1f5661" stroke="none" stroke-width="1" />
<circle cx="564.20" cy="753.60" r="3.3" fill="#1f5661" stroke="none" stroke-width="1" />
<circle cx="563.50" cy="761.90" r="3.3" fill="#1f5661" stroke="none" stroke-width="1" />
<circle cx="563.00" cy="794.80" r="3.3" fill="#1f5661" stroke="none" stroke-width="1" />
<circle cx="563.50" cy="827.30" r="3.3" fill="#1f5661" stroke="none" stroke-width="1" />
<circle cx="518.20" cy="827.00" r="2.8" fill="none" stroke="#5d9fcc" stroke-width="1.2" />
<circle cx="522.40" cy="827.00" r="2.8" fill="none" stroke="#5d9fcc" stroke-width="1.2" />
<circle cx="526.60" cy="827.00" r="2.8" fill="none" stroke="#5d9fcc" stroke-width="1.2" />
<circle cx="530.80" cy="827.00" r="2.8" fill="none" stroke="#5d9fcc" stroke-width="1.2" />
<circle cx="535.00" cy="827.00" r="2.8" fill="none" stroke="#5d9fcc" stroke-width="1.2" />
<circle cx="539.20" cy="827.00" r="2.8" fill="none" stroke="#5d9fcc" stroke-width="1.2" />
<circle cx="529.90" cy="817.20" r="2.8" fill="none" stroke="#5d9fcc" stroke-width="1.2" />
<line x1="532.00" y1="724.80" x2="563.50" y2="724.80" stroke="#3a3a3a" stroke-width="1.5" />
<path d="M544.70,717.30 L544.70,714.70 M544.70,717.30 L547.17,716.50 M544.70,717.30 L546.23,719.40 M544.70,717.30 L543.17,719.40 M544.70,717.30 L542.23,716.50 M551.10,717.30 L551.10,714.70 M551.10,717.30 L553.57,716.50 M551.10,717.30 L552.63,719.40 M551.10,717.30 L549.57,719.40 M551.10,717.30 L548.63,716.50 " fill="none" stroke="#231f20" stroke-width="1.15" stroke-linecap="round"/>
<text x="510.9" y="850.0" font-size="17" >Ctrl</text>
<text x="546.2" y="850.0" font-size="17" >hM4Di</text>
<text transform="translate(454.0,761.5) rotate(-90)" x="0" y="0" font-size="17.3" text-anchor="middle" fill="#231f20">S2M transition</text>
<text transform="translate(471.0,760.8) rotate(-90)" x="0" y="0" font-size="17.3" text-anchor="middle" fill="#231f20">probability (%)</text>
<text transform="translate(606.8,675.8) scale(0.93,1)" font-size="19.2" font-weight="bold" fill="#231f20" stroke="#231f20" stroke-width="0.55">J</text>
<text x="626.3" y="681.8" font-size="15" >Satiated (In estrus)</text>
<path d="M644.1,689.2 V715.2 H731.7 V689.2" fill="none" stroke="#4a4040" stroke-width="1.5" />
<use href="#mouse" transform="translate(669.40,693.60) scale(0.3710,0.3710)" fill="#8b2d25" stroke="#4a1510" stroke-width="1.887"/>
<text x="688.3" y="732.8" font-size="15" text-anchor="middle" >0.5h after</text>
<text x="690.0" y="745.6" font-size="15" text-anchor="middle" >ejac reflex</text>
<line x1="685.60" y1="754.30" x2="685.60" y2="811.00" stroke="#231f20" stroke-width="1.3" marker-end="url(#ah)"/>
<text transform="translate(679.4,786.1) rotate(-90)" x="0" y="0" font-size="14.8" text-anchor="middle" fill="#231f20">+CNO</text>
<text transform="translate(703.2,783.2) rotate(-90)" x="0" y="0" font-size="14.8" text-anchor="middle" fill="#231f20">30min</text>
<path d="M644.3,818.7 V845.4 H731.9 V818.7" fill="none" stroke="#4a4040" stroke-width="1.5" />
<text x="651.6" y="835.2" font-size="14" >S</text>
<text x="661.4" y="840.8" font-size="9" >(e)</text>
<use href="#mouse" transform="translate(675.30,821.10) scale(0.3750,0.3750)" fill="#8b2d25" stroke="#4a1510" stroke-width="1.867"/>
<path d="M736,810.4 C729,809.8 722,811 718.5,815" fill="none" stroke="#231f20" stroke-width="1.0" marker-end="url(#ahs)"/>
<circle cx="742.00" cy="812.30" r="3.8" fill="none" stroke="#231f20" stroke-width="1.4" />
<path d="M744.8,809.5 L749.6,804.2 M745.2,803.8 H749.8 V808.4" fill="none" stroke="#231f20" stroke-width="1.4" />
<line x1="819.70" y1="690.60" x2="819.70" y2="826.70" stroke="#5c5c5c" stroke-width="1.3" />
<line x1="814.20" y1="691.20" x2="819.70" y2="691.20" stroke="#5c5c5c" stroke-width="1.3" />
<text x="812.8" y="698.1" font-size="17" text-anchor="end" >60</text>
<line x1="814.20" y1="736.10" x2="819.70" y2="736.10" stroke="#5c5c5c" stroke-width="1.3" />
<text x="812.8" y="742.9" font-size="17" text-anchor="end" >40</text>
<line x1="814.20" y1="780.90" x2="819.70" y2="780.90" stroke="#5c5c5c" stroke-width="1.3" />
<text x="812.8" y="787.8" font-size="17" text-anchor="end" >20</text>
<line x1="814.20" y1="826.10" x2="819.70" y2="826.10" stroke="#5c5c5c" stroke-width="1.3" />
<text x="812.8" y="832.2" font-size="17" text-anchor="end" >0</text>
<rect x="827.80" y="821.90" width="25.00" height="4.20" fill="#f6c7c1" stroke="#a8392f" stroke-width="1.1" />
<rect x="861.40" y="782.20" width="25.00" height="43.90" fill="#f6c7c1" stroke="#a8392f" stroke-width="1.1" />
<line x1="813.30" y1="826.10" x2="896.10" y2="826.10" stroke="#5c5c5c" stroke-width="1.3" />
<line x1="839.70" y1="826.10" x2="839.70" y2="831.70" stroke="#5c5c5c" stroke-width="1.3" />
<line x1="873.90" y1="826.10" x2="873.90" y2="831.70" stroke="#5c5c5c" stroke-width="1.3" />
<line x1="873.90" y1="777.00" x2="873.90" y2="787.20" stroke="#a8392f" stroke-width="1.3" />
<line x1="869.40" y1="777.00" x2="878.40" y2="777.00" stroke="#a8392f" stroke-width="1.3" />
<line x1="869.40" y1="787.20" x2="878.40" y2="787.20" stroke="#a8392f" stroke-width="1.3" />
<circle cx="875.30" cy="755.30" r="3.3" fill="#9a2c23" stroke="none" stroke-width="1" />
<circle cx="871.10" cy="771.90" r="3.3" fill="#9a2c23" stroke="none" stroke-width="1" />
<circle cx="875.80" cy="780.30" r="3.3" fill="#9a2c23" stroke="none" stroke-width="1" />
<circle cx="872.50" cy="785.30" r="3.3" fill="#9a2c23" stroke="none" stroke-width="1" />
<circle cx="875.80" cy="790.00" r="3.3" fill="#9a2c23" stroke="none" stroke-width="1" />
<circle cx="871.10" cy="797.80" r="3.3" fill="#9a2c23" stroke="none" stroke-width="1" />
<circle cx="877.20" cy="796.40" r="3.3" fill="#9a2c23" stroke="none" stroke-width="1" />
<circle cx="839.20" cy="806.70" r="2.8" fill="none" stroke="#c4534b" stroke-width="1.2" />
<circle cx="837.00" cy="817.20" r="2.8" fill="none" stroke="#c4534b" stroke-width="1.2" />
<circle cx="831.00" cy="824.50" r="2.8" fill="none" stroke="#c4534b" stroke-width="1.2" />
<circle cx="835.50" cy="826.00" r="2.8" fill="none" stroke="#c4534b" stroke-width="1.2" />
<circle cx="840.00" cy="824.00" r="2.8" fill="none" stroke="#c4534b" stroke-width="1.2" />
<circle cx="844.50" cy="826.00" r="2.8" fill="none" stroke="#c4534b" stroke-width="1.2" />
<circle cx="849.50" cy="824.50" r="2.8" fill="none" stroke="#c4534b" stroke-width="1.2" />
<line x1="836.40" y1="748.30" x2="872.50" y2="748.30" stroke="#3a3a3a" stroke-width="1.5" />
<path d="M847.20,742.80 L847.20,740.20 M847.20,742.80 L849.67,742.00 M847.20,742.80 L848.73,744.90 M847.20,742.80 L845.67,744.90 M847.20,742.80 L844.73,742.00 M853.60,742.80 L853.60,740.20 M853.60,742.80 L856.07,742.00 M853.60,742.80 L855.13,744.90 M853.60,742.80 L852.07,744.90 M853.60,742.80 L851.13,742.00 M860.00,742.80 L860.00,740.20 M860.00,742.80 L862.47,742.00 M860.00,742.80 L861.53,744.90 M860.00,742.80 L858.47,744.90 M860.00,742.80 L857.53,742.00 " fill="none" stroke="#231f20" stroke-width="1.15" stroke-linecap="round"/>
<text x="822.0" y="847.6" font-size="17" >Ctrl</text>
<text x="853.2" y="847.6" font-size="17" >hM4Di</text>
<text transform="translate(789.3,754.6) rotate(-90)" x="0" y="0" font-size="17.2" text-anchor="middle" fill="#231f20">Lordosis trials (%)</text>
<line x1="977.70" y1="693.40" x2="977.70" y2="826.70" stroke="#5c5c5c" stroke-width="1.3" />
<line x1="972.20" y1="694.00" x2="977.70" y2="694.00" stroke="#5c5c5c" stroke-width="1.3" />
<text x="970.6" y="701.8" font-size="17" text-anchor="end" >100</text>
<line x1="972.20" y1="760.40" x2="977.70" y2="760.40" stroke="#5c5c5c" stroke-width="1.3" />
<text x="970.6" y="767.2" font-size="17" text-anchor="end" >50</text>
<line x1="972.20" y1="826.10" x2="977.70" y2="826.10" stroke="#5c5c5c" stroke-width="1.3" />
<text x="970.6" y="831.5" font-size="17" text-anchor="end" >0</text>
<rect x="986.10" y="818.30" width="25.00" height="7.80" fill="#f6c7c1" stroke="#a8392f" stroke-width="1.1" />
<rect x="1020.60" y="730.30" width="24.70" height="95.80" fill="#f6c7c1" stroke="#a8392f" stroke-width="1.1" />
<line x1="971.70" y1="826.10" x2="1055.00" y2="826.10" stroke="#5c5c5c" stroke-width="1.3" />
<line x1="998.00" y1="826.10" x2="998.00" y2="831.70" stroke="#5c5c5c" stroke-width="1.3" />
<line x1="1032.80" y1="826.10" x2="1032.80" y2="831.70" stroke="#5c5c5c" stroke-width="1.3" />
<line x1="1032.90" y1="718.60" x2="1032.90" y2="742.80" stroke="#a8392f" stroke-width="1.3" />
<line x1="1028.40" y1="718.60" x2="1037.40" y2="718.60" stroke="#a8392f" stroke-width="1.3" />
<line x1="1028.40" y1="742.80" x2="1037.40" y2="742.80" stroke="#a8392f" stroke-width="1.3" />
<circle cx="1029.20" cy="694.70" r="3.3" fill="#9a2c23" stroke="none" stroke-width="1" />
<circle cx="1034.70" cy="694.70" r="3.3" fill="#9a2c23" stroke="none" stroke-width="1" />
<circle cx="1034.70" cy="711.40" r="3.3" fill="#9a2c23" stroke="none" stroke-width="1" />
<circle cx="1032.80" cy="728.10" r="3.3" fill="#9a2c23" stroke="none" stroke-width="1" />
<circle cx="1029.20" cy="760.00" r="3.3" fill="#9a2c23" stroke="none" stroke-width="1" />
<circle cx="1034.70" cy="760.00" r="3.3" fill="#9a2c23" stroke="none" stroke-width="1" />
<circle cx="1032.80" cy="767.20" r="3.3" fill="#9a2c23" stroke="none" stroke-width="1" />
<circle cx="998.60" cy="796.90" r="2.8" fill="none" stroke="#c4534b" stroke-width="1.2" />
<circle cx="998.00" cy="810.00" r="2.8" fill="none" stroke="#c4534b" stroke-width="1.2" />
<circle cx="1002.20" cy="817.20" r="2.8" fill="none" stroke="#c4534b" stroke-width="1.2" />
<circle cx="993.90" cy="817.80" r="2.8" fill="none" stroke="#c4534b" stroke-width="1.2" />
<circle cx="991.10" cy="826.00" r="2.8" fill="none" stroke="#c4534b" stroke-width="1.2" />
<circle cx="998.00" cy="826.00" r="2.8" fill="none" stroke="#c4534b" stroke-width="1.2" />
<circle cx="1005.00" cy="826.00" r="2.8" fill="none" stroke="#c4534b" stroke-width="1.2" />
<line x1="995.30" y1="710.80" x2="1025.80" y2="710.80" stroke="#3a3a3a" stroke-width="1.5" />
<path d="M1002.80,703.30 L1002.80,700.70 M1002.80,703.30 L1005.27,702.50 M1002.80,703.30 L1004.33,705.40 M1002.80,703.30 L1001.27,705.40 M1002.80,703.30 L1000.33,702.50 M1009.20,703.30 L1009.20,700.70 M1009.20,703.30 L1011.67,702.50 M1009.20,703.30 L1010.73,705.40 M1009.20,703.30 L1007.67,705.40 M1009.20,703.30 L1006.73,702.50 M1015.60,703.30 L1015.60,700.70 M1015.60,703.30 L1018.07,702.50 M1015.60,703.30 L1017.13,705.40 M1015.60,703.30 L1014.07,705.40 M1015.60,703.30 L1013.13,702.50 " fill="none" stroke="#231f20" stroke-width="1.15" stroke-linecap="round"/>
<text x="979.8" y="847.6" font-size="17" >Ctrl</text>
<text x="1010.2" y="847.6" font-size="17" >hM4Di</text>
<text transform="translate(925.5,766.1) rotate(-90)" x="0" y="0" font-size="17.4" text-anchor="middle" fill="#231f20">M2L transition</text>
<text transform="translate(942.4,765.4) rotate(-90)" x="0" y="0" font-size="17.1" text-anchor="middle" fill="#231f20">probability (%)</text>
</svg></body></html>
